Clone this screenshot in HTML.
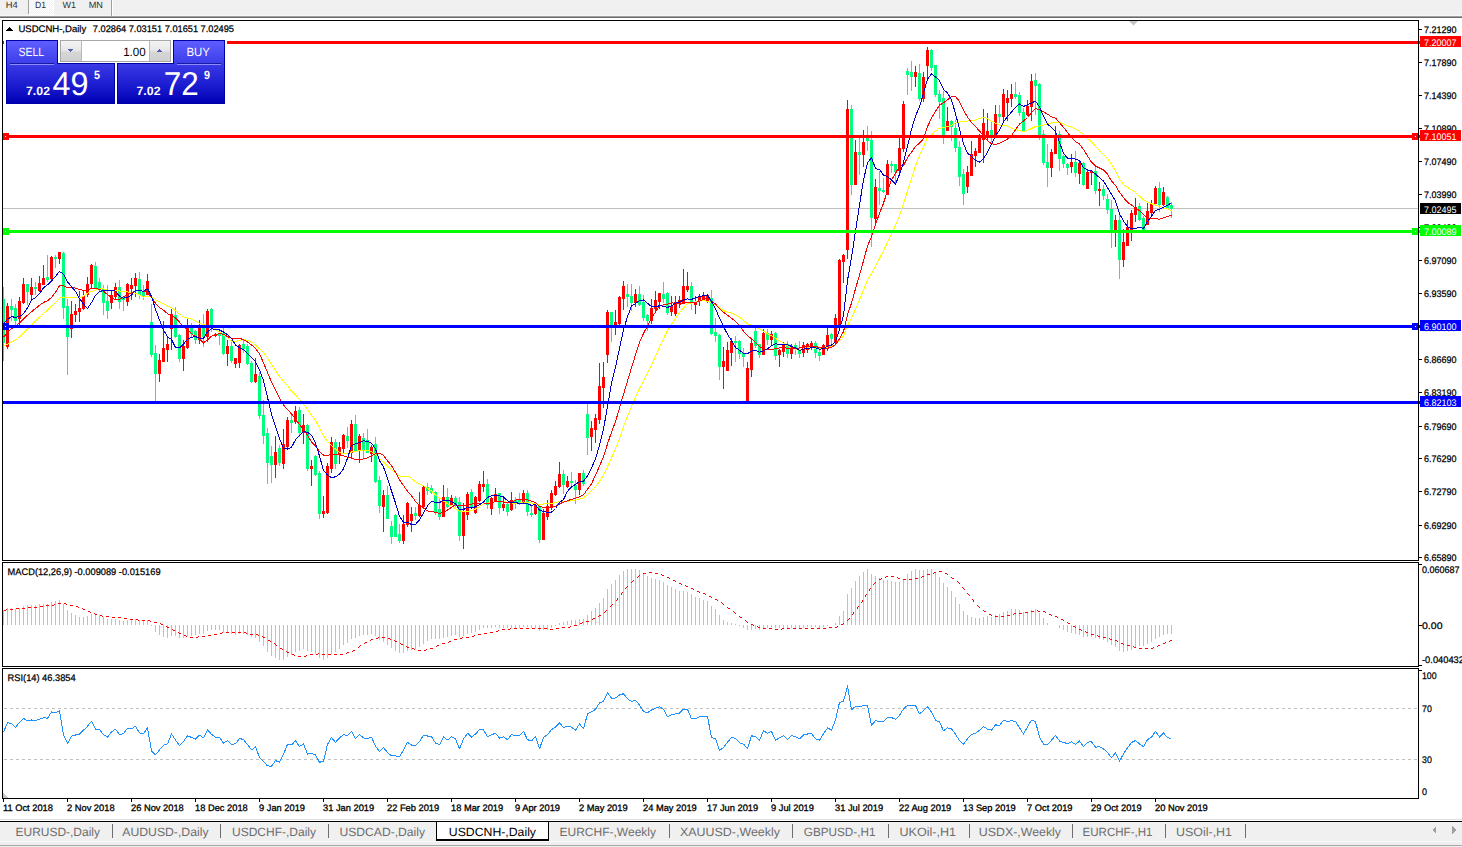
<!DOCTYPE html>
<html><head><meta charset="utf-8"><style>
html,body{margin:0;padding:0;background:#fff;}
body{width:1462px;height:847px;overflow:hidden;position:relative;}
svg{position:absolute;left:0;top:0;font-family:"Liberation Sans",sans-serif;}
</style></head><body>
<svg width="1462" height="847" viewBox="0 0 1462 847" shape-rendering="crispEdges" text-rendering="geometricPrecision">
<rect x="0" y="0" width="1462" height="15" fill="#f0f0f0"/>
<rect x="0" y="15" width="1462" height="1" fill="#f7f7f7"/>
<rect x="0" y="16" width="1462" height="1" fill="#a0a0a0"/>
<rect x="0" y="17" width="1462" height="1" fill="#6a6a6a"/>
<defs><pattern id="chk" x="0" y="0" width="2" height="2" patternUnits="userSpaceOnUse"><rect width="2" height="2" fill="#f0f0f0"/><rect width="1" height="1" fill="#ffffff"/><rect x="1" y="1" width="1" height="1" fill="#ffffff"/></pattern></defs>
<rect x="29" y="0" width="25" height="15" fill="#ffffff"/>
<rect x="29" y="0" width="24" height="14" fill="url(#chk)"/>
<rect x="28" y="0" width="1" height="14" fill="#a0a0a0"/>
<rect x="111" y="0" width="1" height="16" fill="#a0a0a0"/>
<rect x="112" y="0" width="1" height="16" fill="#ffffff"/>
<text x="5.7" y="8" font-size="9" fill="#303030" textLength="12" lengthAdjust="spacingAndGlyphs">H4</text>
<text x="35" y="8" font-size="9" fill="#303030" textLength="11" lengthAdjust="spacingAndGlyphs">D1</text>
<text x="62.4" y="8" font-size="9" fill="#303030" textLength="13.5" lengthAdjust="spacingAndGlyphs">W1</text>
<text x="88.7" y="8" font-size="9" fill="#303030" textLength="14.3" lengthAdjust="spacingAndGlyphs">MN</text>
<defs><clipPath id="cm"><rect x="3" y="21" width="1415" height="539"/></clipPath>
<clipPath id="cd"><rect x="3" y="563" width="1415" height="103"/></clipPath>
<clipPath id="cr"><rect x="3" y="669" width="1415" height="129"/></clipPath>
<linearGradient id="gt" x1="0" y1="0" x2="0" y2="1"><stop offset="0" stop-color="#5e5eff"/><stop offset="1" stop-color="#3c3cea"/></linearGradient>
<linearGradient id="gb" x1="0" y1="0" x2="0" y2="1"><stop offset="0" stop-color="#3a3ae6"/><stop offset="0.5" stop-color="#1e1ed2"/><stop offset="1" stop-color="#0000b4"/></linearGradient>
<linearGradient id="gs" x1="0" y1="0" x2="0" y2="1"><stop offset="0" stop-color="#f4f4f4"/><stop offset="0.5" stop-color="#e6e6e6"/><stop offset="0.55" stop-color="#d6d6d6"/><stop offset="1" stop-color="#d0d0d0"/></linearGradient>
</defs>
<rect x="1419" y="29" width="3" height="1" fill="#000"/>
<text x="1424" y="33" font-size="9.5" fill="#000" textLength="32.5" lengthAdjust="spacingAndGlyphs" stroke="#000" stroke-width="0.25">7.21290</text>
<rect x="1419" y="62" width="3" height="1" fill="#000"/>
<text x="1424" y="66" font-size="9.5" fill="#000" textLength="32.5" lengthAdjust="spacingAndGlyphs" stroke="#000" stroke-width="0.25">7.17890</text>
<rect x="1419" y="95" width="3" height="1" fill="#000"/>
<text x="1424" y="99" font-size="9.5" fill="#000" textLength="32.5" lengthAdjust="spacingAndGlyphs" stroke="#000" stroke-width="0.25">7.14390</text>
<rect x="1419" y="128" width="3" height="1" fill="#000"/>
<text x="1424" y="132" font-size="9.5" fill="#000" textLength="32.5" lengthAdjust="spacingAndGlyphs" stroke="#000" stroke-width="0.25">7.10890</text>
<rect x="1419" y="161" width="3" height="1" fill="#000"/>
<text x="1424" y="165" font-size="9.5" fill="#000" textLength="32.5" lengthAdjust="spacingAndGlyphs" stroke="#000" stroke-width="0.25">7.07490</text>
<rect x="1419" y="194" width="3" height="1" fill="#000"/>
<text x="1424" y="198" font-size="9.5" fill="#000" textLength="32.5" lengthAdjust="spacingAndGlyphs" stroke="#000" stroke-width="0.25">7.03990</text>
<rect x="1419" y="227" width="3" height="1" fill="#000"/>
<text x="1424" y="231" font-size="9.5" fill="#000" textLength="32.5" lengthAdjust="spacingAndGlyphs" stroke="#000" stroke-width="0.25">7.00490</text>
<rect x="1419" y="260" width="3" height="1" fill="#000"/>
<text x="1424" y="264" font-size="9.5" fill="#000" textLength="32.5" lengthAdjust="spacingAndGlyphs" stroke="#000" stroke-width="0.25">6.97090</text>
<rect x="1419" y="293" width="3" height="1" fill="#000"/>
<text x="1424" y="297" font-size="9.5" fill="#000" textLength="32.5" lengthAdjust="spacingAndGlyphs" stroke="#000" stroke-width="0.25">6.93590</text>
<rect x="1419" y="327" width="3" height="1" fill="#000"/>
<text x="1424" y="331" font-size="9.5" fill="#000" textLength="32.5" lengthAdjust="spacingAndGlyphs" stroke="#000" stroke-width="0.25">6.90090</text>
<rect x="1419" y="359" width="3" height="1" fill="#000"/>
<text x="1424" y="363" font-size="9.5" fill="#000" textLength="32.5" lengthAdjust="spacingAndGlyphs" stroke="#000" stroke-width="0.25">6.86690</text>
<rect x="1419" y="392" width="3" height="1" fill="#000"/>
<text x="1424" y="396" font-size="9.5" fill="#000" textLength="32.5" lengthAdjust="spacingAndGlyphs" stroke="#000" stroke-width="0.25">6.83190</text>
<rect x="1419" y="426" width="3" height="1" fill="#000"/>
<text x="1424" y="430" font-size="9.5" fill="#000" textLength="32.5" lengthAdjust="spacingAndGlyphs" stroke="#000" stroke-width="0.25">6.79690</text>
<rect x="1419" y="458" width="3" height="1" fill="#000"/>
<text x="1424" y="462" font-size="9.5" fill="#000" textLength="32.5" lengthAdjust="spacingAndGlyphs" stroke="#000" stroke-width="0.25">6.76290</text>
<rect x="1419" y="491" width="3" height="1" fill="#000"/>
<text x="1424" y="495" font-size="9.5" fill="#000" textLength="32.5" lengthAdjust="spacingAndGlyphs" stroke="#000" stroke-width="0.25">6.72790</text>
<rect x="1419" y="525" width="3" height="1" fill="#000"/>
<text x="1424" y="529" font-size="9.5" fill="#000" textLength="32.5" lengthAdjust="spacingAndGlyphs" stroke="#000" stroke-width="0.25">6.69290</text>
<rect x="1419" y="557" width="3" height="1" fill="#000"/>
<text x="1424" y="561" font-size="9.5" fill="#000" textLength="32.5" lengthAdjust="spacingAndGlyphs" stroke="#000" stroke-width="0.25">6.65890</text>
<rect x="3" y="208" width="1415" height="1" fill="#c0c0c0"/>
<g clip-path="url(#cm)">
<rect x="3" y="287" width="1" height="74" fill="#00ff7f"/>
<rect x="2" y="299" width="3" height="44" fill="#00ff7f"/>
<rect x="7" y="303" width="1" height="46" fill="#ff0000"/>
<rect x="6" y="306" width="3" height="41" fill="#ff0000"/>
<rect x="11" y="299" width="1" height="22" fill="#00ff7f"/>
<rect x="10" y="306" width="3" height="4" fill="#00ff7f"/>
<rect x="15" y="304" width="1" height="21" fill="#00ff7f"/>
<rect x="14" y="308" width="3" height="13" fill="#00ff7f"/>
<rect x="19" y="297" width="1" height="28" fill="#ff0000"/>
<rect x="18" y="301" width="3" height="18" fill="#ff0000"/>
<rect x="23" y="278" width="1" height="26" fill="#ff0000"/>
<rect x="22" y="284" width="3" height="19" fill="#ff0000"/>
<rect x="27" y="284" width="1" height="21" fill="#00ff7f"/>
<rect x="26" y="284" width="3" height="8" fill="#00ff7f"/>
<rect x="31" y="278" width="1" height="22" fill="#ff0000"/>
<rect x="30" y="287" width="3" height="8" fill="#ff0000"/>
<rect x="35" y="282" width="1" height="13" fill="#00ff7f"/>
<rect x="34" y="287" width="3" height="2" fill="#00ff7f"/>
<rect x="39" y="276" width="1" height="16" fill="#ff0000"/>
<rect x="38" y="283" width="3" height="8" fill="#ff0000"/>
<rect x="43" y="265" width="1" height="20" fill="#ff0000"/>
<rect x="42" y="278" width="3" height="7" fill="#ff0000"/>
<rect x="47" y="255" width="1" height="27" fill="#00ff7f"/>
<rect x="46" y="277" width="3" height="3" fill="#00ff7f"/>
<rect x="51" y="256" width="1" height="25" fill="#ff0000"/>
<rect x="50" y="257" width="3" height="22" fill="#ff0000"/>
<rect x="55" y="255" width="1" height="13" fill="#00ff7f"/>
<rect x="54" y="257" width="3" height="2" fill="#00ff7f"/>
<rect x="59" y="252" width="1" height="12" fill="#ff0000"/>
<rect x="58" y="252" width="3" height="7" fill="#ff0000"/>
<rect x="63" y="252" width="1" height="67" fill="#00ff7f"/>
<rect x="62" y="253" width="3" height="55" fill="#00ff7f"/>
<rect x="67" y="299" width="1" height="76" fill="#00ff7f"/>
<rect x="66" y="306" width="3" height="31" fill="#00ff7f"/>
<rect x="71" y="301" width="1" height="37" fill="#ff0000"/>
<rect x="70" y="314" width="3" height="15" fill="#ff0000"/>
<rect x="75" y="304" width="1" height="18" fill="#ff0000"/>
<rect x="74" y="311" width="3" height="4" fill="#ff0000"/>
<rect x="79" y="291" width="1" height="31" fill="#ff0000"/>
<rect x="78" y="308" width="3" height="4" fill="#ff0000"/>
<rect x="83" y="291" width="1" height="19" fill="#ff0000"/>
<rect x="82" y="296" width="3" height="13" fill="#ff0000"/>
<rect x="87" y="277" width="1" height="20" fill="#ff0000"/>
<rect x="86" y="284" width="3" height="11" fill="#ff0000"/>
<rect x="91" y="264" width="1" height="25" fill="#ff0000"/>
<rect x="90" y="265" width="3" height="19" fill="#ff0000"/>
<rect x="95" y="262" width="1" height="27" fill="#00ff7f"/>
<rect x="94" y="266" width="3" height="22" fill="#00ff7f"/>
<rect x="99" y="278" width="1" height="14" fill="#00ff7f"/>
<rect x="98" y="282" width="3" height="7" fill="#00ff7f"/>
<rect x="103" y="285" width="1" height="30" fill="#00ff7f"/>
<rect x="102" y="289" width="3" height="14" fill="#00ff7f"/>
<rect x="107" y="285" width="1" height="34" fill="#00ff7f"/>
<rect x="106" y="301" width="3" height="10" fill="#00ff7f"/>
<rect x="111" y="291" width="1" height="18" fill="#ff0000"/>
<rect x="110" y="295" width="3" height="8" fill="#ff0000"/>
<rect x="115" y="283" width="1" height="16" fill="#ff0000"/>
<rect x="114" y="287" width="3" height="10" fill="#ff0000"/>
<rect x="119" y="280" width="1" height="29" fill="#00ff7f"/>
<rect x="118" y="287" width="3" height="15" fill="#00ff7f"/>
<rect x="123" y="297" width="1" height="14" fill="#00ff7f"/>
<rect x="122" y="298" width="3" height="2" fill="#00ff7f"/>
<rect x="127" y="283" width="1" height="23" fill="#ff0000"/>
<rect x="126" y="284" width="3" height="18" fill="#ff0000"/>
<rect x="131" y="278" width="1" height="22" fill="#ff0000"/>
<rect x="130" y="285" width="3" height="4" fill="#ff0000"/>
<rect x="135" y="273" width="1" height="24" fill="#ff0000"/>
<rect x="134" y="278" width="3" height="8" fill="#ff0000"/>
<rect x="139" y="272" width="1" height="27" fill="#00ff7f"/>
<rect x="138" y="279" width="3" height="16" fill="#00ff7f"/>
<rect x="143" y="285" width="1" height="15" fill="#00ff7f"/>
<rect x="142" y="291" width="3" height="6" fill="#00ff7f"/>
<rect x="147" y="274" width="1" height="21" fill="#ff0000"/>
<rect x="146" y="281" width="3" height="14" fill="#ff0000"/>
<rect x="151" y="304" width="1" height="53" fill="#00ff7f"/>
<rect x="150" y="322" width="3" height="33" fill="#00ff7f"/>
<rect x="155" y="345" width="1" height="56" fill="#00ff7f"/>
<rect x="154" y="353" width="3" height="21" fill="#00ff7f"/>
<rect x="159" y="354" width="1" height="28" fill="#ff0000"/>
<rect x="158" y="360" width="3" height="14" fill="#ff0000"/>
<rect x="163" y="321" width="1" height="41" fill="#ff0000"/>
<rect x="162" y="348" width="3" height="14" fill="#ff0000"/>
<rect x="167" y="337" width="1" height="25" fill="#ff0000"/>
<rect x="166" y="344" width="3" height="6" fill="#ff0000"/>
<rect x="171" y="309" width="1" height="41" fill="#ff0000"/>
<rect x="170" y="314" width="3" height="15" fill="#ff0000"/>
<rect x="175" y="307" width="1" height="31" fill="#00ff7f"/>
<rect x="174" y="315" width="3" height="22" fill="#00ff7f"/>
<rect x="179" y="334" width="1" height="28" fill="#00ff7f"/>
<rect x="178" y="335" width="3" height="24" fill="#00ff7f"/>
<rect x="183" y="340" width="1" height="31" fill="#ff0000"/>
<rect x="182" y="346" width="3" height="13" fill="#ff0000"/>
<rect x="187" y="318" width="1" height="31" fill="#ff0000"/>
<rect x="186" y="327" width="3" height="21" fill="#ff0000"/>
<rect x="191" y="323" width="1" height="14" fill="#00ff7f"/>
<rect x="190" y="327" width="3" height="7" fill="#00ff7f"/>
<rect x="195" y="330" width="1" height="14" fill="#00ff7f"/>
<rect x="194" y="331" width="3" height="9" fill="#00ff7f"/>
<rect x="199" y="320" width="1" height="24" fill="#ff0000"/>
<rect x="198" y="327" width="3" height="13" fill="#ff0000"/>
<rect x="203" y="314" width="1" height="33" fill="#00ff7f"/>
<rect x="202" y="328" width="3" height="9" fill="#00ff7f"/>
<rect x="207" y="309" width="1" height="33" fill="#ff0000"/>
<rect x="206" y="311" width="3" height="26" fill="#ff0000"/>
<rect x="211" y="308" width="1" height="24" fill="#00ff7f"/>
<rect x="210" y="309" width="3" height="17" fill="#00ff7f"/>
<rect x="215" y="333" width="1" height="4" fill="#ff0000"/>
<rect x="214" y="334" width="3" height="2" fill="#ff0000"/>
<rect x="219" y="330" width="1" height="15" fill="#00ff7f"/>
<rect x="218" y="333" width="3" height="3" fill="#00ff7f"/>
<rect x="223" y="328" width="1" height="27" fill="#00ff7f"/>
<rect x="222" y="333" width="3" height="21" fill="#00ff7f"/>
<rect x="227" y="340" width="1" height="26" fill="#ff0000"/>
<rect x="226" y="346" width="3" height="8" fill="#ff0000"/>
<rect x="231" y="340" width="1" height="23" fill="#00ff7f"/>
<rect x="230" y="346" width="3" height="15" fill="#00ff7f"/>
<rect x="235" y="358" width="1" height="10" fill="#ff0000"/>
<rect x="234" y="358" width="3" height="6" fill="#ff0000"/>
<rect x="239" y="344" width="1" height="24" fill="#ff0000"/>
<rect x="238" y="345" width="3" height="18" fill="#ff0000"/>
<rect x="243" y="340" width="1" height="13" fill="#00ff7f"/>
<rect x="242" y="344" width="3" height="5" fill="#00ff7f"/>
<rect x="247" y="344" width="1" height="21" fill="#00ff7f"/>
<rect x="246" y="346" width="3" height="18" fill="#00ff7f"/>
<rect x="251" y="361" width="1" height="22" fill="#00ff7f"/>
<rect x="250" y="363" width="3" height="19" fill="#00ff7f"/>
<rect x="255" y="358" width="1" height="25" fill="#ff0000"/>
<rect x="254" y="374" width="3" height="8" fill="#ff0000"/>
<rect x="259" y="372" width="1" height="47" fill="#00ff7f"/>
<rect x="258" y="376" width="3" height="40" fill="#00ff7f"/>
<rect x="263" y="400" width="1" height="44" fill="#00ff7f"/>
<rect x="262" y="415" width="3" height="21" fill="#00ff7f"/>
<rect x="267" y="428" width="1" height="56" fill="#00ff7f"/>
<rect x="266" y="433" width="3" height="30" fill="#00ff7f"/>
<rect x="271" y="446" width="1" height="37" fill="#00ff7f"/>
<rect x="270" y="456" width="3" height="9" fill="#00ff7f"/>
<rect x="275" y="436" width="1" height="42" fill="#ff0000"/>
<rect x="274" y="452" width="3" height="13" fill="#ff0000"/>
<rect x="279" y="445" width="1" height="21" fill="#00ff7f"/>
<rect x="278" y="448" width="3" height="15" fill="#00ff7f"/>
<rect x="283" y="429" width="1" height="40" fill="#ff0000"/>
<rect x="282" y="444" width="3" height="20" fill="#ff0000"/>
<rect x="287" y="417" width="1" height="31" fill="#ff0000"/>
<rect x="286" y="420" width="3" height="27" fill="#ff0000"/>
<rect x="291" y="414" width="1" height="19" fill="#00ff7f"/>
<rect x="290" y="420" width="3" height="3" fill="#00ff7f"/>
<rect x="295" y="406" width="1" height="18" fill="#ff0000"/>
<rect x="294" y="411" width="3" height="11" fill="#ff0000"/>
<rect x="299" y="407" width="1" height="30" fill="#00ff7f"/>
<rect x="298" y="410" width="3" height="23" fill="#00ff7f"/>
<rect x="303" y="414" width="1" height="30" fill="#ff0000"/>
<rect x="302" y="425" width="3" height="8" fill="#ff0000"/>
<rect x="307" y="424" width="1" height="47" fill="#00ff7f"/>
<rect x="306" y="425" width="3" height="44" fill="#00ff7f"/>
<rect x="311" y="460" width="1" height="26" fill="#ff0000"/>
<rect x="310" y="466" width="3" height="3" fill="#ff0000"/>
<rect x="315" y="455" width="1" height="21" fill="#00ff7f"/>
<rect x="314" y="456" width="3" height="19" fill="#00ff7f"/>
<rect x="319" y="471" width="1" height="48" fill="#00ff7f"/>
<rect x="318" y="473" width="3" height="41" fill="#00ff7f"/>
<rect x="323" y="496" width="1" height="22" fill="#ff0000"/>
<rect x="322" y="511" width="3" height="3" fill="#ff0000"/>
<rect x="327" y="463" width="1" height="51" fill="#ff0000"/>
<rect x="326" y="466" width="3" height="47" fill="#ff0000"/>
<rect x="331" y="437" width="1" height="36" fill="#ff0000"/>
<rect x="330" y="442" width="3" height="27" fill="#ff0000"/>
<rect x="335" y="439" width="1" height="30" fill="#00ff7f"/>
<rect x="334" y="442" width="3" height="22" fill="#00ff7f"/>
<rect x="339" y="442" width="1" height="22" fill="#ff0000"/>
<rect x="338" y="447" width="3" height="8" fill="#ff0000"/>
<rect x="343" y="434" width="1" height="20" fill="#ff0000"/>
<rect x="342" y="435" width="3" height="14" fill="#ff0000"/>
<rect x="347" y="427" width="1" height="21" fill="#00ff7f"/>
<rect x="346" y="436" width="3" height="5" fill="#00ff7f"/>
<rect x="351" y="420" width="1" height="38" fill="#ff0000"/>
<rect x="350" y="424" width="3" height="29" fill="#ff0000"/>
<rect x="355" y="415" width="1" height="37" fill="#00ff7f"/>
<rect x="354" y="424" width="3" height="27" fill="#00ff7f"/>
<rect x="359" y="434" width="1" height="29" fill="#ff0000"/>
<rect x="358" y="436" width="3" height="15" fill="#ff0000"/>
<rect x="363" y="433" width="1" height="26" fill="#00ff7f"/>
<rect x="362" y="438" width="3" height="12" fill="#00ff7f"/>
<rect x="367" y="429" width="1" height="24" fill="#00ff7f"/>
<rect x="366" y="440" width="3" height="13" fill="#00ff7f"/>
<rect x="371" y="445" width="1" height="17" fill="#ff0000"/>
<rect x="370" y="447" width="3" height="7" fill="#ff0000"/>
<rect x="375" y="437" width="1" height="46" fill="#00ff7f"/>
<rect x="374" y="444" width="3" height="38" fill="#00ff7f"/>
<rect x="379" y="476" width="1" height="37" fill="#00ff7f"/>
<rect x="378" y="480" width="3" height="26" fill="#00ff7f"/>
<rect x="383" y="490" width="1" height="42" fill="#ff0000"/>
<rect x="382" y="495" width="3" height="12" fill="#ff0000"/>
<rect x="387" y="486" width="1" height="33" fill="#00ff7f"/>
<rect x="386" y="495" width="3" height="24" fill="#00ff7f"/>
<rect x="391" y="521" width="1" height="23" fill="#00ff7f"/>
<rect x="390" y="526" width="3" height="11" fill="#00ff7f"/>
<rect x="395" y="514" width="1" height="23" fill="#00ff7f"/>
<rect x="394" y="515" width="3" height="22" fill="#00ff7f"/>
<rect x="399" y="524" width="1" height="19" fill="#00ff7f"/>
<rect x="398" y="534" width="3" height="7" fill="#00ff7f"/>
<rect x="403" y="515" width="1" height="29" fill="#ff0000"/>
<rect x="402" y="524" width="3" height="17" fill="#ff0000"/>
<rect x="407" y="502" width="1" height="25" fill="#ff0000"/>
<rect x="406" y="503" width="3" height="22" fill="#ff0000"/>
<rect x="411" y="507" width="1" height="25" fill="#ff0000"/>
<rect x="410" y="514" width="3" height="7" fill="#ff0000"/>
<rect x="415" y="507" width="1" height="13" fill="#00ff7f"/>
<rect x="414" y="513" width="3" height="3" fill="#00ff7f"/>
<rect x="419" y="492" width="1" height="25" fill="#ff0000"/>
<rect x="418" y="505" width="3" height="11" fill="#ff0000"/>
<rect x="423" y="486" width="1" height="22" fill="#ff0000"/>
<rect x="422" y="487" width="3" height="20" fill="#ff0000"/>
<rect x="427" y="483" width="1" height="12" fill="#00ff7f"/>
<rect x="426" y="487" width="3" height="4" fill="#00ff7f"/>
<rect x="431" y="485" width="1" height="9" fill="#00ff7f"/>
<rect x="430" y="488" width="3" height="5" fill="#00ff7f"/>
<rect x="435" y="491" width="1" height="24" fill="#00ff7f"/>
<rect x="434" y="492" width="3" height="20" fill="#00ff7f"/>
<rect x="439" y="498" width="1" height="22" fill="#00ff7f"/>
<rect x="438" y="509" width="3" height="8" fill="#00ff7f"/>
<rect x="443" y="485" width="1" height="32" fill="#ff0000"/>
<rect x="442" y="497" width="3" height="20" fill="#ff0000"/>
<rect x="447" y="488" width="1" height="20" fill="#00ff7f"/>
<rect x="446" y="497" width="3" height="10" fill="#00ff7f"/>
<rect x="451" y="495" width="1" height="12" fill="#ff0000"/>
<rect x="450" y="498" width="3" height="7" fill="#ff0000"/>
<rect x="455" y="496" width="1" height="11" fill="#00ff7f"/>
<rect x="454" y="498" width="3" height="7" fill="#00ff7f"/>
<rect x="459" y="497" width="1" height="44" fill="#00ff7f"/>
<rect x="458" y="502" width="3" height="34" fill="#00ff7f"/>
<rect x="463" y="503" width="1" height="46" fill="#ff0000"/>
<rect x="462" y="511" width="3" height="25" fill="#ff0000"/>
<rect x="467" y="492" width="1" height="28" fill="#ff0000"/>
<rect x="466" y="494" width="3" height="21" fill="#ff0000"/>
<rect x="471" y="489" width="1" height="19" fill="#00ff7f"/>
<rect x="470" y="492" width="3" height="15" fill="#00ff7f"/>
<rect x="475" y="496" width="1" height="18" fill="#ff0000"/>
<rect x="474" y="497" width="3" height="16" fill="#ff0000"/>
<rect x="479" y="481" width="1" height="21" fill="#ff0000"/>
<rect x="478" y="484" width="3" height="17" fill="#ff0000"/>
<rect x="483" y="471" width="1" height="21" fill="#ff0000"/>
<rect x="482" y="484" width="3" height="3" fill="#ff0000"/>
<rect x="487" y="479" width="1" height="30" fill="#00ff7f"/>
<rect x="486" y="484" width="3" height="21" fill="#00ff7f"/>
<rect x="491" y="497" width="1" height="18" fill="#ff0000"/>
<rect x="490" y="498" width="3" height="11" fill="#ff0000"/>
<rect x="495" y="488" width="1" height="14" fill="#ff0000"/>
<rect x="494" y="494" width="3" height="7" fill="#ff0000"/>
<rect x="499" y="493" width="1" height="21" fill="#00ff7f"/>
<rect x="498" y="493" width="3" height="15" fill="#00ff7f"/>
<rect x="503" y="496" width="1" height="15" fill="#ff0000"/>
<rect x="502" y="504" width="3" height="4" fill="#ff0000"/>
<rect x="507" y="503" width="1" height="13" fill="#00ff7f"/>
<rect x="506" y="504" width="3" height="8" fill="#00ff7f"/>
<rect x="511" y="492" width="1" height="19" fill="#ff0000"/>
<rect x="510" y="500" width="3" height="10" fill="#ff0000"/>
<rect x="515" y="497" width="1" height="12" fill="#00ff7f"/>
<rect x="514" y="500" width="3" height="3" fill="#00ff7f"/>
<rect x="519" y="493" width="1" height="12" fill="#00ff7f"/>
<rect x="518" y="499" width="3" height="4" fill="#00ff7f"/>
<rect x="523" y="490" width="1" height="14" fill="#ff0000"/>
<rect x="522" y="493" width="3" height="9" fill="#ff0000"/>
<rect x="527" y="490" width="1" height="26" fill="#00ff7f"/>
<rect x="526" y="493" width="3" height="19" fill="#00ff7f"/>
<rect x="531" y="506" width="1" height="11" fill="#00ff7f"/>
<rect x="530" y="513" width="3" height="2" fill="#00ff7f"/>
<rect x="535" y="505" width="1" height="10" fill="#ff0000"/>
<rect x="534" y="505" width="3" height="9" fill="#ff0000"/>
<rect x="539" y="505" width="1" height="38" fill="#00ff7f"/>
<rect x="538" y="506" width="3" height="34" fill="#00ff7f"/>
<rect x="543" y="509" width="1" height="31" fill="#ff0000"/>
<rect x="542" y="513" width="3" height="27" fill="#ff0000"/>
<rect x="547" y="500" width="1" height="20" fill="#ff0000"/>
<rect x="546" y="506" width="3" height="11" fill="#ff0000"/>
<rect x="551" y="490" width="1" height="20" fill="#ff0000"/>
<rect x="550" y="493" width="3" height="15" fill="#ff0000"/>
<rect x="555" y="481" width="1" height="15" fill="#ff0000"/>
<rect x="554" y="486" width="3" height="9" fill="#ff0000"/>
<rect x="559" y="462" width="1" height="26" fill="#ff0000"/>
<rect x="558" y="474" width="3" height="13" fill="#ff0000"/>
<rect x="563" y="470" width="1" height="24" fill="#00ff7f"/>
<rect x="562" y="474" width="3" height="11" fill="#00ff7f"/>
<rect x="567" y="476" width="1" height="12" fill="#ff0000"/>
<rect x="566" y="481" width="3" height="6" fill="#ff0000"/>
<rect x="571" y="472" width="1" height="15" fill="#00ff7f"/>
<rect x="570" y="481" width="3" height="2" fill="#00ff7f"/>
<rect x="575" y="480" width="1" height="24" fill="#00ff7f"/>
<rect x="574" y="485" width="3" height="5" fill="#00ff7f"/>
<rect x="579" y="473" width="1" height="22" fill="#ff0000"/>
<rect x="578" y="473" width="3" height="17" fill="#ff0000"/>
<rect x="583" y="470" width="1" height="16" fill="#00ff7f"/>
<rect x="582" y="473" width="3" height="11" fill="#00ff7f"/>
<rect x="587" y="404" width="1" height="51" fill="#00ff7f"/>
<rect x="586" y="414" width="3" height="24" fill="#00ff7f"/>
<rect x="591" y="421" width="1" height="30" fill="#ff0000"/>
<rect x="590" y="428" width="3" height="9" fill="#ff0000"/>
<rect x="595" y="414" width="1" height="29" fill="#ff0000"/>
<rect x="594" y="418" width="3" height="12" fill="#ff0000"/>
<rect x="599" y="363" width="1" height="61" fill="#ff0000"/>
<rect x="598" y="386" width="3" height="34" fill="#ff0000"/>
<rect x="603" y="362" width="1" height="46" fill="#ff0000"/>
<rect x="602" y="377" width="3" height="11" fill="#ff0000"/>
<rect x="607" y="310" width="1" height="53" fill="#ff0000"/>
<rect x="606" y="312" width="3" height="43" fill="#ff0000"/>
<rect x="611" y="312" width="1" height="30" fill="#00ff7f"/>
<rect x="610" y="312" width="3" height="13" fill="#00ff7f"/>
<rect x="615" y="310" width="1" height="25" fill="#ff0000"/>
<rect x="614" y="322" width="3" height="3" fill="#ff0000"/>
<rect x="619" y="296" width="1" height="29" fill="#ff0000"/>
<rect x="618" y="297" width="3" height="27" fill="#ff0000"/>
<rect x="623" y="281" width="1" height="29" fill="#ff0000"/>
<rect x="622" y="286" width="3" height="13" fill="#ff0000"/>
<rect x="627" y="284" width="1" height="23" fill="#00ff7f"/>
<rect x="626" y="294" width="3" height="3" fill="#00ff7f"/>
<rect x="631" y="284" width="1" height="27" fill="#00ff7f"/>
<rect x="630" y="296" width="3" height="7" fill="#00ff7f"/>
<rect x="635" y="289" width="1" height="18" fill="#ff0000"/>
<rect x="634" y="294" width="3" height="9" fill="#ff0000"/>
<rect x="639" y="286" width="1" height="20" fill="#00ff7f"/>
<rect x="638" y="294" width="3" height="11" fill="#00ff7f"/>
<rect x="643" y="295" width="1" height="26" fill="#00ff7f"/>
<rect x="642" y="302" width="3" height="16" fill="#00ff7f"/>
<rect x="647" y="314" width="1" height="17" fill="#00ff7f"/>
<rect x="646" y="315" width="3" height="6" fill="#00ff7f"/>
<rect x="651" y="299" width="1" height="25" fill="#ff0000"/>
<rect x="650" y="308" width="3" height="13" fill="#ff0000"/>
<rect x="655" y="291" width="1" height="20" fill="#ff0000"/>
<rect x="654" y="300" width="3" height="9" fill="#ff0000"/>
<rect x="659" y="293" width="1" height="16" fill="#ff0000"/>
<rect x="658" y="293" width="3" height="9" fill="#ff0000"/>
<rect x="663" y="282" width="1" height="21" fill="#00ff7f"/>
<rect x="662" y="294" width="3" height="5" fill="#00ff7f"/>
<rect x="667" y="292" width="1" height="23" fill="#00ff7f"/>
<rect x="666" y="293" width="3" height="20" fill="#00ff7f"/>
<rect x="671" y="296" width="1" height="20" fill="#ff0000"/>
<rect x="670" y="306" width="3" height="6" fill="#ff0000"/>
<rect x="675" y="296" width="1" height="20" fill="#ff0000"/>
<rect x="674" y="302" width="3" height="12" fill="#ff0000"/>
<rect x="679" y="296" width="1" height="12" fill="#ff0000"/>
<rect x="678" y="300" width="3" height="4" fill="#ff0000"/>
<rect x="683" y="269" width="1" height="34" fill="#ff0000"/>
<rect x="682" y="286" width="3" height="17" fill="#ff0000"/>
<rect x="687" y="272" width="1" height="20" fill="#ff0000"/>
<rect x="686" y="286" width="3" height="4" fill="#ff0000"/>
<rect x="691" y="282" width="1" height="28" fill="#00ff7f"/>
<rect x="690" y="286" width="3" height="17" fill="#00ff7f"/>
<rect x="695" y="296" width="1" height="18" fill="#ff0000"/>
<rect x="694" y="302" width="3" height="3" fill="#ff0000"/>
<rect x="699" y="294" width="1" height="12" fill="#ff0000"/>
<rect x="698" y="296" width="3" height="5" fill="#ff0000"/>
<rect x="703" y="292" width="1" height="9" fill="#ff0000"/>
<rect x="702" y="295" width="3" height="5" fill="#ff0000"/>
<rect x="707" y="294" width="1" height="9" fill="#ff0000"/>
<rect x="706" y="295" width="3" height="6" fill="#ff0000"/>
<rect x="711" y="290" width="1" height="45" fill="#00ff7f"/>
<rect x="710" y="298" width="3" height="36" fill="#00ff7f"/>
<rect x="715" y="318" width="1" height="24" fill="#00ff7f"/>
<rect x="714" y="332" width="3" height="4" fill="#00ff7f"/>
<rect x="719" y="334" width="1" height="46" fill="#00ff7f"/>
<rect x="718" y="335" width="3" height="32" fill="#00ff7f"/>
<rect x="723" y="347" width="1" height="42" fill="#ff0000"/>
<rect x="722" y="361" width="3" height="6" fill="#ff0000"/>
<rect x="727" y="342" width="1" height="29" fill="#ff0000"/>
<rect x="726" y="350" width="3" height="21" fill="#ff0000"/>
<rect x="731" y="338" width="1" height="28" fill="#ff0000"/>
<rect x="730" y="341" width="3" height="12" fill="#ff0000"/>
<rect x="735" y="336" width="1" height="26" fill="#00ff7f"/>
<rect x="734" y="341" width="3" height="2" fill="#00ff7f"/>
<rect x="739" y="340" width="1" height="19" fill="#00ff7f"/>
<rect x="738" y="341" width="3" height="13" fill="#00ff7f"/>
<rect x="743" y="348" width="1" height="19" fill="#00ff7f"/>
<rect x="742" y="353" width="3" height="4" fill="#00ff7f"/>
<rect x="747" y="362" width="1" height="41" fill="#ff0000"/>
<rect x="746" y="368" width="3" height="34" fill="#ff0000"/>
<rect x="751" y="339" width="1" height="38" fill="#ff0000"/>
<rect x="750" y="343" width="3" height="27" fill="#ff0000"/>
<rect x="755" y="328" width="1" height="20" fill="#00ff7f"/>
<rect x="754" y="331" width="3" height="15" fill="#00ff7f"/>
<rect x="759" y="344" width="1" height="14" fill="#00ff7f"/>
<rect x="758" y="344" width="3" height="11" fill="#00ff7f"/>
<rect x="763" y="329" width="1" height="26" fill="#ff0000"/>
<rect x="762" y="333" width="3" height="22" fill="#ff0000"/>
<rect x="767" y="329" width="1" height="16" fill="#00ff7f"/>
<rect x="766" y="333" width="3" height="7" fill="#00ff7f"/>
<rect x="771" y="331" width="1" height="15" fill="#ff0000"/>
<rect x="770" y="334" width="3" height="6" fill="#ff0000"/>
<rect x="775" y="332" width="1" height="28" fill="#00ff7f"/>
<rect x="774" y="333" width="3" height="23" fill="#00ff7f"/>
<rect x="779" y="349" width="1" height="18" fill="#ff0000"/>
<rect x="778" y="350" width="3" height="5" fill="#ff0000"/>
<rect x="783" y="342" width="1" height="15" fill="#ff0000"/>
<rect x="782" y="345" width="3" height="7" fill="#ff0000"/>
<rect x="787" y="341" width="1" height="17" fill="#00ff7f"/>
<rect x="786" y="344" width="3" height="10" fill="#00ff7f"/>
<rect x="791" y="344" width="1" height="15" fill="#ff0000"/>
<rect x="790" y="346" width="3" height="8" fill="#ff0000"/>
<rect x="795" y="343" width="1" height="12" fill="#00ff7f"/>
<rect x="794" y="345" width="3" height="4" fill="#00ff7f"/>
<rect x="799" y="341" width="1" height="17" fill="#00ff7f"/>
<rect x="798" y="349" width="3" height="5" fill="#00ff7f"/>
<rect x="803" y="342" width="1" height="15" fill="#ff0000"/>
<rect x="802" y="345" width="3" height="8" fill="#ff0000"/>
<rect x="807" y="343" width="1" height="10" fill="#ff0000"/>
<rect x="806" y="344" width="3" height="6" fill="#ff0000"/>
<rect x="811" y="341" width="1" height="9" fill="#ff0000"/>
<rect x="810" y="343" width="3" height="4" fill="#ff0000"/>
<rect x="815" y="341" width="1" height="17" fill="#00ff7f"/>
<rect x="814" y="343" width="3" height="10" fill="#00ff7f"/>
<rect x="819" y="349" width="1" height="12" fill="#00ff7f"/>
<rect x="818" y="352" width="3" height="4" fill="#00ff7f"/>
<rect x="823" y="344" width="1" height="11" fill="#ff0000"/>
<rect x="822" y="345" width="3" height="10" fill="#ff0000"/>
<rect x="827" y="328" width="1" height="23" fill="#ff0000"/>
<rect x="826" y="335" width="3" height="12" fill="#ff0000"/>
<rect x="831" y="333" width="1" height="12" fill="#00ff7f"/>
<rect x="830" y="334" width="3" height="5" fill="#00ff7f"/>
<rect x="835" y="314" width="1" height="30" fill="#ff0000"/>
<rect x="834" y="318" width="3" height="24" fill="#ff0000"/>
<rect x="839" y="259" width="1" height="66" fill="#ff0000"/>
<rect x="838" y="260" width="3" height="65" fill="#ff0000"/>
<rect x="843" y="254" width="1" height="29" fill="#ff0000"/>
<rect x="842" y="255" width="3" height="7" fill="#ff0000"/>
<rect x="847" y="100" width="1" height="159" fill="#ff0000"/>
<rect x="846" y="109" width="3" height="141" fill="#ff0000"/>
<rect x="851" y="105" width="1" height="90" fill="#00ff7f"/>
<rect x="850" y="109" width="3" height="76" fill="#00ff7f"/>
<rect x="855" y="140" width="1" height="45" fill="#ff0000"/>
<rect x="854" y="152" width="3" height="33" fill="#ff0000"/>
<rect x="859" y="138" width="1" height="37" fill="#00ff7f"/>
<rect x="858" y="152" width="3" height="3" fill="#00ff7f"/>
<rect x="863" y="130" width="1" height="37" fill="#ff0000"/>
<rect x="862" y="142" width="3" height="13" fill="#ff0000"/>
<rect x="867" y="126" width="1" height="25" fill="#00ff7f"/>
<rect x="866" y="138" width="3" height="3" fill="#00ff7f"/>
<rect x="871" y="131" width="1" height="116" fill="#00ff7f"/>
<rect x="870" y="140" width="3" height="78" fill="#00ff7f"/>
<rect x="875" y="179" width="1" height="44" fill="#ff0000"/>
<rect x="874" y="187" width="3" height="32" fill="#ff0000"/>
<rect x="879" y="171" width="1" height="34" fill="#00ff7f"/>
<rect x="878" y="188" width="3" height="3" fill="#00ff7f"/>
<rect x="883" y="178" width="1" height="15" fill="#00ff7f"/>
<rect x="882" y="190" width="3" height="2" fill="#00ff7f"/>
<rect x="887" y="160" width="1" height="35" fill="#ff0000"/>
<rect x="886" y="164" width="3" height="31" fill="#ff0000"/>
<rect x="891" y="161" width="1" height="12" fill="#00ff7f"/>
<rect x="890" y="164" width="3" height="2" fill="#00ff7f"/>
<rect x="895" y="164" width="1" height="21" fill="#00ff7f"/>
<rect x="894" y="164" width="3" height="8" fill="#00ff7f"/>
<rect x="899" y="138" width="1" height="36" fill="#ff0000"/>
<rect x="898" y="148" width="3" height="23" fill="#ff0000"/>
<rect x="903" y="101" width="1" height="51" fill="#ff0000"/>
<rect x="902" y="104" width="3" height="45" fill="#ff0000"/>
<rect x="907" y="68" width="1" height="27" fill="#00ff7f"/>
<rect x="906" y="71" width="3" height="4" fill="#00ff7f"/>
<rect x="911" y="61" width="1" height="30" fill="#00ff7f"/>
<rect x="910" y="72" width="3" height="5" fill="#00ff7f"/>
<rect x="915" y="66" width="1" height="21" fill="#ff0000"/>
<rect x="914" y="72" width="3" height="5" fill="#ff0000"/>
<rect x="919" y="64" width="1" height="37" fill="#00ff7f"/>
<rect x="918" y="73" width="3" height="26" fill="#00ff7f"/>
<rect x="923" y="72" width="1" height="30" fill="#ff0000"/>
<rect x="922" y="77" width="3" height="22" fill="#ff0000"/>
<rect x="927" y="47" width="1" height="32" fill="#ff0000"/>
<rect x="926" y="50" width="3" height="16" fill="#ff0000"/>
<rect x="931" y="49" width="1" height="22" fill="#00ff7f"/>
<rect x="930" y="50" width="3" height="18" fill="#00ff7f"/>
<rect x="935" y="65" width="1" height="32" fill="#00ff7f"/>
<rect x="934" y="65" width="3" height="30" fill="#00ff7f"/>
<rect x="939" y="90" width="1" height="29" fill="#00ff7f"/>
<rect x="938" y="94" width="3" height="8" fill="#00ff7f"/>
<rect x="943" y="91" width="1" height="53" fill="#00ff7f"/>
<rect x="942" y="98" width="3" height="38" fill="#00ff7f"/>
<rect x="947" y="107" width="1" height="24" fill="#ff0000"/>
<rect x="946" y="121" width="3" height="10" fill="#ff0000"/>
<rect x="951" y="120" width="1" height="21" fill="#00ff7f"/>
<rect x="950" y="121" width="3" height="6" fill="#00ff7f"/>
<rect x="955" y="120" width="1" height="32" fill="#00ff7f"/>
<rect x="954" y="128" width="3" height="20" fill="#00ff7f"/>
<rect x="959" y="141" width="1" height="45" fill="#00ff7f"/>
<rect x="958" y="147" width="3" height="30" fill="#00ff7f"/>
<rect x="963" y="169" width="1" height="36" fill="#00ff7f"/>
<rect x="962" y="174" width="3" height="20" fill="#00ff7f"/>
<rect x="967" y="166" width="1" height="27" fill="#ff0000"/>
<rect x="966" y="172" width="3" height="15" fill="#ff0000"/>
<rect x="971" y="141" width="1" height="26" fill="#ff0000"/>
<rect x="970" y="154" width="3" height="22" fill="#ff0000"/>
<rect x="975" y="148" width="1" height="19" fill="#ff0000"/>
<rect x="974" y="151" width="3" height="5" fill="#ff0000"/>
<rect x="979" y="134" width="1" height="19" fill="#ff0000"/>
<rect x="978" y="138" width="3" height="15" fill="#ff0000"/>
<rect x="983" y="109" width="1" height="54" fill="#ff0000"/>
<rect x="982" y="123" width="3" height="17" fill="#ff0000"/>
<rect x="987" y="113" width="1" height="28" fill="#ff0000"/>
<rect x="986" y="131" width="3" height="6" fill="#ff0000"/>
<rect x="991" y="122" width="1" height="20" fill="#00ff7f"/>
<rect x="990" y="130" width="3" height="5" fill="#00ff7f"/>
<rect x="995" y="105" width="1" height="32" fill="#ff0000"/>
<rect x="994" y="114" width="3" height="21" fill="#ff0000"/>
<rect x="999" y="105" width="1" height="18" fill="#00ff7f"/>
<rect x="998" y="114" width="3" height="3" fill="#00ff7f"/>
<rect x="1003" y="89" width="1" height="34" fill="#ff0000"/>
<rect x="1002" y="94" width="3" height="23" fill="#ff0000"/>
<rect x="1007" y="90" width="1" height="31" fill="#ff0000"/>
<rect x="1006" y="98" width="3" height="5" fill="#ff0000"/>
<rect x="1011" y="84" width="1" height="23" fill="#ff0000"/>
<rect x="1010" y="94" width="3" height="5" fill="#ff0000"/>
<rect x="1015" y="82" width="1" height="17" fill="#00ff7f"/>
<rect x="1014" y="94" width="3" height="3" fill="#00ff7f"/>
<rect x="1019" y="92" width="1" height="24" fill="#00ff7f"/>
<rect x="1018" y="95" width="3" height="18" fill="#00ff7f"/>
<rect x="1023" y="108" width="1" height="24" fill="#00ff7f"/>
<rect x="1022" y="112" width="3" height="19" fill="#00ff7f"/>
<rect x="1027" y="100" width="1" height="16" fill="#ff0000"/>
<rect x="1026" y="106" width="3" height="9" fill="#ff0000"/>
<rect x="1031" y="74" width="1" height="47" fill="#ff0000"/>
<rect x="1030" y="81" width="3" height="26" fill="#ff0000"/>
<rect x="1035" y="73" width="1" height="42" fill="#00ff7f"/>
<rect x="1034" y="80" width="3" height="6" fill="#00ff7f"/>
<rect x="1039" y="83" width="1" height="57" fill="#00ff7f"/>
<rect x="1038" y="84" width="3" height="51" fill="#00ff7f"/>
<rect x="1043" y="130" width="1" height="35" fill="#00ff7f"/>
<rect x="1042" y="134" width="3" height="29" fill="#00ff7f"/>
<rect x="1047" y="144" width="1" height="43" fill="#00ff7f"/>
<rect x="1046" y="162" width="3" height="6" fill="#00ff7f"/>
<rect x="1051" y="149" width="1" height="28" fill="#ff0000"/>
<rect x="1050" y="152" width="3" height="16" fill="#ff0000"/>
<rect x="1055" y="126" width="1" height="28" fill="#ff0000"/>
<rect x="1054" y="135" width="3" height="19" fill="#ff0000"/>
<rect x="1059" y="131" width="1" height="40" fill="#00ff7f"/>
<rect x="1058" y="134" width="3" height="25" fill="#00ff7f"/>
<rect x="1063" y="155" width="1" height="13" fill="#00ff7f"/>
<rect x="1062" y="156" width="3" height="8" fill="#00ff7f"/>
<rect x="1067" y="163" width="1" height="12" fill="#00ff7f"/>
<rect x="1066" y="164" width="3" height="4" fill="#00ff7f"/>
<rect x="1071" y="154" width="1" height="19" fill="#ff0000"/>
<rect x="1070" y="162" width="3" height="5" fill="#ff0000"/>
<rect x="1075" y="151" width="1" height="26" fill="#00ff7f"/>
<rect x="1074" y="162" width="3" height="11" fill="#00ff7f"/>
<rect x="1079" y="162" width="1" height="22" fill="#ff0000"/>
<rect x="1078" y="163" width="3" height="11" fill="#ff0000"/>
<rect x="1083" y="162" width="1" height="24" fill="#00ff7f"/>
<rect x="1082" y="163" width="3" height="22" fill="#00ff7f"/>
<rect x="1087" y="170" width="1" height="19" fill="#ff0000"/>
<rect x="1086" y="172" width="3" height="17" fill="#ff0000"/>
<rect x="1091" y="170" width="1" height="15" fill="#ff0000"/>
<rect x="1090" y="171" width="3" height="2" fill="#ff0000"/>
<rect x="1095" y="167" width="1" height="27" fill="#00ff7f"/>
<rect x="1094" y="171" width="3" height="20" fill="#00ff7f"/>
<rect x="1099" y="182" width="1" height="24" fill="#ff0000"/>
<rect x="1098" y="189" width="3" height="2" fill="#ff0000"/>
<rect x="1103" y="185" width="1" height="15" fill="#00ff7f"/>
<rect x="1102" y="189" width="3" height="7" fill="#00ff7f"/>
<rect x="1107" y="194" width="1" height="20" fill="#00ff7f"/>
<rect x="1106" y="199" width="3" height="11" fill="#00ff7f"/>
<rect x="1111" y="200" width="1" height="48" fill="#00ff7f"/>
<rect x="1110" y="209" width="3" height="22" fill="#00ff7f"/>
<rect x="1115" y="215" width="1" height="32" fill="#ff0000"/>
<rect x="1114" y="220" width="3" height="11" fill="#ff0000"/>
<rect x="1119" y="215" width="1" height="64" fill="#00ff7f"/>
<rect x="1118" y="220" width="3" height="40" fill="#00ff7f"/>
<rect x="1123" y="229" width="1" height="38" fill="#ff0000"/>
<rect x="1122" y="242" width="3" height="18" fill="#ff0000"/>
<rect x="1127" y="220" width="1" height="25" fill="#ff0000"/>
<rect x="1126" y="227" width="3" height="19" fill="#ff0000"/>
<rect x="1131" y="210" width="1" height="31" fill="#ff0000"/>
<rect x="1130" y="213" width="3" height="17" fill="#ff0000"/>
<rect x="1135" y="198" width="1" height="24" fill="#ff0000"/>
<rect x="1134" y="207" width="3" height="8" fill="#ff0000"/>
<rect x="1139" y="203" width="1" height="18" fill="#00ff7f"/>
<rect x="1138" y="206" width="3" height="14" fill="#00ff7f"/>
<rect x="1143" y="216" width="1" height="15" fill="#00ff7f"/>
<rect x="1142" y="218" width="3" height="12" fill="#00ff7f"/>
<rect x="1147" y="202" width="1" height="23" fill="#ff0000"/>
<rect x="1146" y="211" width="3" height="14" fill="#ff0000"/>
<rect x="1151" y="200" width="1" height="16" fill="#ff0000"/>
<rect x="1150" y="204" width="3" height="9" fill="#ff0000"/>
<rect x="1155" y="186" width="1" height="19" fill="#ff0000"/>
<rect x="1154" y="188" width="3" height="16" fill="#ff0000"/>
<rect x="1159" y="182" width="1" height="30" fill="#00ff7f"/>
<rect x="1158" y="188" width="3" height="17" fill="#00ff7f"/>
<rect x="1163" y="187" width="1" height="19" fill="#ff0000"/>
<rect x="1162" y="192" width="3" height="13" fill="#ff0000"/>
<rect x="1167" y="196" width="1" height="12" fill="#00ff7f"/>
<rect x="1166" y="197" width="3" height="11" fill="#00ff7f"/>
<rect x="1171" y="202" width="1" height="16" fill="#00ff7f"/>
<rect x="1170" y="205" width="3" height="4" fill="#00ff7f"/>
</g>
<g clip-path="url(#cm)" shape-rendering="crispEdges">
<polyline points="3.5,346.4 7.5,344.2 11.5,342.0 15.5,340.1 19.5,337.1 23.5,332.9 27.5,328.9 31.5,324.8 35.5,320.9 39.5,317.1 43.5,313.5 47.5,310.2 51.5,306.2 55.5,302.3 59.5,298.3 63.5,297.0 67.5,297.4 71.5,297.3 75.5,297.6 79.5,297.8 83.5,296.1 87.5,293.3 91.5,291.4 95.5,290.3 99.5,288.8 103.5,288.9 107.5,290.1 111.5,290.4 115.5,290.4 119.5,291.0 123.5,291.8 127.5,292.0 131.5,292.3 135.5,293.3 139.5,295.0 143.5,297.1 147.5,295.8 151.5,296.7 155.5,299.5 159.5,301.9 163.5,303.7 167.5,306.0 171.5,307.4 175.5,310.8 179.5,314.2 183.5,316.9 187.5,318.1 191.5,319.2 195.5,321.3 199.5,323.2 203.5,324.8 207.5,325.4 211.5,327.3 215.5,329.6 219.5,332.3 223.5,335.2 227.5,337.5 231.5,341.3 235.5,341.5 239.5,340.2 243.5,339.6 247.5,340.3 251.5,342.1 255.5,345.0 259.5,348.8 263.5,352.4 267.5,358.0 271.5,364.5 275.5,370.2 279.5,376.1 283.5,381.6 287.5,385.6 291.5,391.0 295.5,395.1 299.5,399.7 303.5,404.0 307.5,409.5 311.5,415.2 315.5,420.6 319.5,428.0 323.5,435.9 327.5,441.5 331.5,445.3 335.5,449.2 339.5,452.6 343.5,453.6 347.5,453.8 351.5,452.0 355.5,451.4 359.5,450.6 363.5,450.0 367.5,450.3 371.5,451.6 375.5,454.4 379.5,458.9 383.5,461.9 387.5,466.3 391.5,469.5 395.5,472.8 399.5,476.0 403.5,476.5 407.5,476.1 411.5,478.4 415.5,481.9 419.5,483.9 423.5,485.8 427.5,488.4 431.5,490.8 435.5,495.0 439.5,498.1 443.5,501.0 447.5,503.7 451.5,505.9 455.5,508.6 459.5,511.2 463.5,511.4 467.5,511.4 471.5,510.8 475.5,509.0 479.5,506.5 483.5,503.8 487.5,502.9 491.5,502.7 495.5,501.7 499.5,501.4 503.5,501.3 507.5,502.4 511.5,502.9 515.5,503.4 519.5,503.0 523.5,501.9 527.5,502.6 531.5,503.0 535.5,503.3 539.5,505.0 543.5,504.0 547.5,503.7 551.5,503.7 555.5,502.7 559.5,501.6 563.5,501.6 567.5,501.5 571.5,500.4 575.5,500.0 579.5,499.0 583.5,497.8 587.5,494.6 591.5,490.7 595.5,486.8 599.5,481.3 603.5,475.3 607.5,466.6 611.5,457.7 615.5,448.5 619.5,438.7 623.5,426.6 627.5,416.3 631.5,406.6 635.5,397.1 639.5,388.5 643.5,381.0 647.5,373.2 651.5,365.0 655.5,356.3 659.5,347.0 663.5,338.7 667.5,330.5 671.5,324.3 675.5,318.3 679.5,312.7 683.5,307.9 687.5,303.6 691.5,303.1 695.5,302.0 699.5,300.8 703.5,300.7 707.5,301.2 711.5,302.9 715.5,304.5 719.5,307.9 723.5,310.6 727.5,312.2 731.5,313.2 735.5,314.8 739.5,317.3 743.5,320.4 747.5,323.7 751.5,325.2 755.5,327.1 759.5,329.5 763.5,331.1 767.5,333.6 771.5,335.9 775.5,338.5 779.5,340.7 783.5,343.1 787.5,345.8 791.5,348.2 795.5,349.0 799.5,349.8 803.5,348.8 807.5,348.0 811.5,347.6 815.5,348.2 819.5,348.8 823.5,348.4 827.5,347.4 831.5,346.0 835.5,344.8 839.5,340.7 843.5,336.0 847.5,325.4 851.5,318.0 855.5,309.3 859.5,299.8 863.5,289.9 867.5,280.1 871.5,273.6 875.5,266.1 879.5,258.5 883.5,250.8 887.5,242.2 891.5,233.7 895.5,225.5 899.5,215.8 903.5,203.8 907.5,190.9 911.5,178.6 915.5,165.9 919.5,155.4 923.5,146.7 927.5,137.0 931.5,135.0 935.5,130.7 939.5,128.3 943.5,127.4 947.5,126.4 951.5,125.7 955.5,122.4 959.5,121.9 963.5,122.0 967.5,121.1 971.5,120.6 975.5,120.0 979.5,118.4 983.5,117.2 987.5,118.5 991.5,121.4 995.5,123.2 999.5,125.3 1003.5,125.1 1007.5,126.1 1011.5,128.2 1015.5,129.6 1019.5,130.4 1023.5,131.8 1027.5,130.4 1031.5,128.5 1035.5,126.5 1039.5,125.9 1043.5,125.3 1047.5,124.0 1051.5,123.0 1055.5,122.1 1059.5,122.4 1063.5,123.7 1067.5,125.8 1071.5,127.3 1075.5,129.1 1079.5,131.4 1083.5,134.6 1087.5,138.4 1091.5,141.8 1095.5,146.4 1099.5,150.8 1103.5,154.7 1107.5,158.5 1111.5,164.4 1115.5,171.1 1119.5,179.3 1123.5,184.5 1127.5,187.5 1131.5,189.7 1135.5,192.3 1139.5,196.3 1143.5,199.7 1147.5,202.0 1151.5,203.7 1155.5,205.0 1159.5,206.5 1163.5,207.8 1167.5,208.9 1171.5,210.6" fill="none" stroke="#ffff00" stroke-width="1"/>
<polyline points="3.5,337.1 7.5,332.6 11.5,328.8 15.5,326.3 19.5,323.0 23.5,318.8 27.5,315.3 31.5,311.7 35.5,308.5 39.5,305.3 43.5,302.5 47.5,300.7 51.5,297.4 55.5,292.2 59.5,285.8 63.5,285.8 67.5,287.7 71.5,287.3 75.5,288.1 79.5,289.8 83.5,290.2 87.5,290.0 91.5,288.3 95.5,288.6 99.5,289.3 103.5,290.9 107.5,294.7 111.5,297.4 115.5,299.8 119.5,299.4 123.5,296.8 127.5,294.6 131.5,292.8 135.5,290.7 139.5,290.5 143.5,291.4 147.5,292.5 151.5,297.3 155.5,303.3 159.5,307.5 163.5,310.2 167.5,313.6 171.5,315.6 175.5,318.0 179.5,322.2 183.5,326.6 187.5,329.6 191.5,333.5 195.5,336.8 199.5,339.0 203.5,342.9 207.5,339.8 211.5,336.3 215.5,334.5 219.5,333.6 223.5,334.2 227.5,336.6 231.5,338.3 235.5,338.3 239.5,338.2 243.5,339.8 247.5,341.9 251.5,344.9 255.5,348.3 259.5,354.0 263.5,362.8 267.5,372.6 271.5,381.9 275.5,390.3 279.5,398.1 283.5,405.1 287.5,409.4 291.5,414.0 295.5,418.7 299.5,424.7 303.5,429.1 307.5,435.3 311.5,441.9 315.5,446.0 319.5,451.6 323.5,455.1 327.5,455.2 331.5,454.5 335.5,454.6 339.5,454.7 343.5,455.9 347.5,457.1 351.5,458.1 355.5,459.4 359.5,460.2 363.5,458.8 367.5,457.8 371.5,455.9 375.5,453.6 379.5,453.2 383.5,455.3 387.5,460.7 391.5,465.8 395.5,472.2 399.5,479.7 403.5,485.6 407.5,491.3 411.5,495.8 415.5,501.4 419.5,505.5 423.5,508.0 427.5,511.0 431.5,511.8 435.5,512.2 439.5,513.7 443.5,512.2 447.5,510.1 451.5,507.4 455.5,504.8 459.5,505.6 463.5,506.1 467.5,504.7 471.5,504.1 475.5,503.5 479.5,503.2 483.5,502.9 487.5,503.7 491.5,502.8 495.5,501.3 499.5,502.0 503.5,501.8 507.5,502.7 511.5,502.4 515.5,500.1 519.5,499.5 523.5,499.5 527.5,499.9 531.5,501.1 535.5,502.6 539.5,506.5 543.5,507.2 547.5,507.7 551.5,507.6 555.5,506.1 559.5,504.0 563.5,502.1 567.5,500.7 571.5,499.3 575.5,498.3 579.5,496.9 583.5,494.8 587.5,489.3 591.5,483.7 595.5,475.2 599.5,466.1 603.5,456.8 607.5,443.9 611.5,432.3 615.5,421.5 619.5,408.2 623.5,394.3 627.5,381.0 631.5,367.7 635.5,354.9 639.5,342.1 643.5,333.5 647.5,325.9 651.5,318.0 655.5,311.9 659.5,305.9 663.5,304.9 667.5,304.1 671.5,302.9 675.5,303.2 679.5,304.2 683.5,303.5 687.5,302.3 691.5,302.8 695.5,302.7 699.5,301.2 703.5,299.4 707.5,298.5 711.5,300.9 715.5,303.9 719.5,308.7 723.5,312.2 727.5,315.4 731.5,318.2 735.5,321.2 739.5,326.0 743.5,331.1 747.5,335.8 751.5,338.8 755.5,342.3 759.5,346.5 763.5,349.1 767.5,349.6 771.5,349.5 775.5,348.7 779.5,347.8 783.5,347.5 787.5,348.4 791.5,348.6 795.5,348.3 799.5,348.0 803.5,346.4 807.5,346.5 811.5,346.3 815.5,346.2 819.5,347.8 823.5,348.2 827.5,348.3 831.5,347.1 835.5,344.9 839.5,338.7 843.5,331.7 847.5,314.8 851.5,303.1 855.5,288.7 859.5,275.1 863.5,260.7 867.5,246.2 871.5,236.5 875.5,224.5 879.5,213.4 883.5,203.2 887.5,190.8 891.5,179.8 895.5,173.5 899.5,165.9 903.5,165.5 907.5,157.7 911.5,152.2 915.5,146.3 919.5,143.2 923.5,138.7 927.5,126.7 931.5,118.2 935.5,111.4 939.5,105.0 943.5,102.9 947.5,99.7 951.5,96.5 955.5,96.4 959.5,101.6 963.5,110.1 967.5,117.0 971.5,122.8 975.5,126.6 979.5,131.0 983.5,136.2 987.5,140.8 991.5,143.6 995.5,144.5 999.5,143.2 1003.5,141.2 1007.5,139.2 1011.5,135.4 1015.5,129.8 1019.5,124.0 1023.5,121.0 1027.5,117.5 1031.5,112.5 1035.5,108.7 1039.5,109.5 1043.5,111.8 1047.5,114.1 1051.5,116.8 1055.5,118.1 1059.5,122.7 1063.5,127.3 1067.5,132.6 1071.5,137.3 1075.5,141.6 1079.5,144.0 1083.5,149.5 1087.5,156.0 1091.5,162.2 1095.5,166.1 1099.5,168.0 1103.5,170.0 1107.5,174.2 1111.5,180.9 1115.5,185.4 1119.5,192.3 1123.5,197.6 1127.5,202.2 1131.5,205.0 1135.5,208.2 1139.5,210.7 1143.5,214.7 1147.5,217.6 1151.5,218.6 1155.5,218.6 1159.5,219.2 1163.5,217.9 1167.5,216.3 1171.5,215.4" fill="none" stroke="#ff0000" stroke-width="1"/>
<polyline points="3.5,323.3 7.5,319.4 11.5,316.8 15.5,317.2 19.5,316.5 23.5,313.9 27.5,307.9 31.5,300.1 35.5,297.5 39.5,293.8 43.5,287.9 47.5,284.8 51.5,281.0 55.5,276.4 59.5,271.5 63.5,274.1 67.5,281.7 71.5,286.8 75.5,291.3 79.5,298.6 83.5,304.0 87.5,308.5 91.5,302.6 95.5,295.5 99.5,291.8 103.5,290.6 107.5,290.8 111.5,290.7 115.5,291.1 119.5,296.3 123.5,298.1 127.5,297.4 131.5,295.0 135.5,290.5 139.5,290.3 143.5,291.6 147.5,288.6 151.5,296.5 155.5,309.3 159.5,320.0 163.5,329.8 167.5,337.0 171.5,339.5 175.5,347.4 179.5,347.9 183.5,344.0 187.5,339.3 191.5,337.2 195.5,336.5 199.5,338.4 203.5,338.4 207.5,331.7 211.5,328.7 215.5,329.7 219.5,330.0 223.5,332.0 227.5,334.7 231.5,338.2 235.5,344.9 239.5,347.8 243.5,349.8 247.5,353.8 251.5,357.8 255.5,361.8 259.5,369.7 263.5,380.7 267.5,397.4 271.5,414.0 275.5,426.8 279.5,438.4 283.5,448.4 287.5,449.0 291.5,447.2 295.5,439.9 299.5,435.3 303.5,431.4 307.5,432.3 311.5,435.3 315.5,443.1 319.5,456.1 323.5,470.3 327.5,475.1 331.5,477.6 335.5,476.8 339.5,474.2 343.5,468.7 347.5,458.2 351.5,445.8 355.5,443.6 359.5,442.8 363.5,440.7 367.5,441.5 371.5,443.1 375.5,449.0 379.5,460.6 383.5,466.9 387.5,478.6 391.5,491.0 395.5,502.9 399.5,516.2 403.5,522.3 407.5,522.0 411.5,524.7 415.5,524.3 419.5,519.9 423.5,513.1 427.5,505.8 431.5,501.2 435.5,502.3 439.5,502.6 443.5,500.1 447.5,500.2 451.5,501.7 455.5,503.8 459.5,509.9 463.5,509.9 467.5,506.8 471.5,508.0 475.5,506.7 479.5,504.7 483.5,502.0 487.5,497.5 491.5,495.7 495.5,495.8 499.5,495.9 503.5,496.9 507.5,500.7 511.5,502.9 515.5,502.7 519.5,503.3 523.5,503.2 527.5,503.8 531.5,505.4 535.5,504.6 539.5,510.1 543.5,511.6 547.5,512.2 551.5,512.1 555.5,508.5 559.5,502.6 563.5,499.6 567.5,491.3 571.5,486.9 575.5,484.4 579.5,481.6 583.5,481.2 587.5,475.9 591.5,467.9 595.5,459.0 599.5,445.2 603.5,429.2 607.5,406.2 611.5,383.5 615.5,367.1 619.5,348.5 623.5,329.5 627.5,316.8 631.5,306.1 635.5,303.5 639.5,300.7 643.5,300.0 647.5,303.3 651.5,306.5 655.5,307.0 659.5,305.7 663.5,306.3 667.5,307.4 671.5,305.8 675.5,303.2 679.5,302.0 683.5,300.0 687.5,298.9 691.5,299.4 695.5,297.9 699.5,296.6 703.5,295.7 707.5,295.0 711.5,301.7 715.5,308.8 719.5,318.1 723.5,326.5 727.5,334.3 731.5,340.7 735.5,347.4 739.5,350.3 743.5,353.4 747.5,353.6 751.5,351.1 755.5,350.3 759.5,352.2 763.5,350.8 767.5,348.8 771.5,345.6 775.5,343.7 779.5,344.6 783.5,344.7 787.5,344.6 791.5,346.5 795.5,347.7 799.5,350.5 803.5,349.1 807.5,348.3 811.5,347.9 815.5,347.9 819.5,349.2 823.5,348.8 827.5,346.2 831.5,345.1 835.5,341.5 839.5,329.5 843.5,315.6 847.5,280.5 851.5,257.4 855.5,231.3 859.5,205.1 863.5,179.9 867.5,162.8 871.5,157.5 875.5,168.6 879.5,169.5 883.5,175.1 887.5,176.5 891.5,179.8 895.5,184.2 899.5,174.3 903.5,162.4 907.5,145.9 911.5,129.4 915.5,116.2 919.5,106.7 923.5,93.2 927.5,79.2 931.5,73.9 935.5,76.9 939.5,80.5 943.5,89.5 947.5,92.8 951.5,99.8 955.5,113.6 959.5,129.2 963.5,143.3 967.5,153.4 971.5,156.2 975.5,160.4 979.5,162.1 983.5,158.7 987.5,152.3 991.5,144.0 995.5,135.6 999.5,130.1 1003.5,122.0 1007.5,116.3 1011.5,112.2 1015.5,107.2 1019.5,104.0 1023.5,106.4 1027.5,104.9 1031.5,103.0 1035.5,101.1 1039.5,106.9 1043.5,116.4 1047.5,124.1 1051.5,127.2 1055.5,131.3 1059.5,142.3 1063.5,153.5 1067.5,158.2 1071.5,158.2 1075.5,159.1 1079.5,160.7 1083.5,167.7 1087.5,169.8 1091.5,170.8 1095.5,174.0 1099.5,177.7 1103.5,181.0 1107.5,187.6 1111.5,194.2 1115.5,201.1 1119.5,213.7 1123.5,221.1 1127.5,226.6 1131.5,229.0 1135.5,228.7 1139.5,227.1 1143.5,228.4 1147.5,221.5 1151.5,216.1 1155.5,210.5 1159.5,209.3 1163.5,207.1 1167.5,205.4 1171.5,202.5" fill="none" stroke="#0000cd" stroke-width="1"/>
</g>
<rect x="3" y="41" width="1417" height="3" fill="#ff0000"/>
<rect x="3" y="135" width="1417" height="3" fill="#ff0000"/>
<rect x="2" y="133" width="7" height="7" fill="#ff0000"/><rect x="5" y="136" width="1" height="1" fill="#fff"/>
<rect x="1412" y="133" width="7" height="7" fill="#ff0000"/><rect x="1415" y="136" width="1" height="1" fill="#fff"/>
<rect x="3" y="230" width="1417" height="3" fill="#00ff00"/>
<rect x="2" y="228" width="7" height="7" fill="#00ff00"/><rect x="5" y="231" width="1" height="1" fill="#fff"/>
<rect x="1412" y="228" width="7" height="7" fill="#00ff00"/><rect x="1415" y="231" width="1" height="1" fill="#fff"/>
<rect x="3" y="325" width="1417" height="3" fill="#0000ff"/>
<rect x="2" y="323" width="7" height="7" fill="#0000ff"/><rect x="5" y="326" width="1" height="1" fill="#fff"/>
<rect x="1412" y="323" width="7" height="7" fill="#0000ff"/><rect x="1415" y="326" width="1" height="1" fill="#fff"/>
<rect x="3" y="401" width="1417" height="3" fill="#0000ff"/>
<rect x="2" y="20" width="1417" height="1" fill="#000"/>
<rect x="2" y="560" width="1417" height="1" fill="#000"/>
<rect x="2" y="20" width="1" height="541" fill="#000"/>
<rect x="1418" y="20" width="1" height="541" fill="#000"/>
<rect x="1420" y="36" width="41" height="11" fill="#ff0000"/>
<text x="1424" y="45.5" font-size="9.5" fill="#fff" textLength="32.5" lengthAdjust="spacingAndGlyphs">7.20007</text>
<rect x="1420" y="130" width="41" height="11" fill="#ff0000"/>
<text x="1424" y="139.5" font-size="9.5" fill="#fff" textLength="32.5" lengthAdjust="spacingAndGlyphs">7.10051</text>
<rect x="1420" y="225" width="41" height="11" fill="#00ff00"/>
<text x="1424" y="234.5" font-size="9.5" fill="#fff" textLength="32.5" lengthAdjust="spacingAndGlyphs">7.00089</text>
<rect x="1420" y="320" width="41" height="11" fill="#0000ff"/>
<text x="1424" y="329.5" font-size="9.5" fill="#fff" textLength="32.5" lengthAdjust="spacingAndGlyphs">6.90100</text>
<rect x="1420" y="396" width="41" height="11" fill="#0000ff"/>
<text x="1424" y="405.5" font-size="9.5" fill="#fff" textLength="32.5" lengthAdjust="spacingAndGlyphs">6.82103</text>
<rect x="1420" y="203" width="41" height="11" fill="#000"/>
<text x="1424" y="212.5" font-size="9.5" fill="#fff" textLength="32.5" lengthAdjust="spacingAndGlyphs">7.02495</text>
<polygon points="1129,21 1138,21 1133.5,25.5" fill="#c4c4c4" shape-rendering="auto"/>
<polygon points="6,31 13,31 9.5,27" fill="#000"/>
<text x="18.4" y="32" font-size="9.5" fill="#000" textLength="67.8" lengthAdjust="spacingAndGlyphs" stroke="#000" stroke-width="0.25">USDCNH-,Daily</text>
<text x="92.8" y="32" font-size="9.5" fill="#000" textLength="141.2" lengthAdjust="spacingAndGlyphs" stroke="#000" stroke-width="0.25">7.02864 7.03151 7.01651 7.02495</text>
<rect x="4" y="39" width="223" height="67" fill="#fff"/>
<rect x="6" y="63" width="109" height="41" fill="#0000a8"/>
<rect x="7" y="64" width="107" height="39" fill="url(#gb)"/>
<rect x="117" y="63" width="108" height="41" fill="#0000a8"/>
<rect x="118" y="64" width="106" height="39" fill="url(#gb)"/>
<rect x="6" y="40" width="52" height="24" fill="#0000a8"/>
<rect x="7" y="41" width="50" height="23" fill="url(#gt)"/>
<rect x="173" y="40" width="52" height="24" fill="#0000a8"/>
<rect x="174" y="41" width="50" height="23" fill="url(#gt)"/>
<rect x="10" y="63" width="44" height="1" fill="#1a1aa0"/><rect x="10" y="64" width="44" height="1" fill="#8c8cff"/>
<rect x="177" y="63" width="44" height="1" fill="#1a1aa0"/><rect x="177" y="64" width="44" height="1" fill="#8c8cff"/>
<text x="18.5" y="56" font-size="12" fill="#fff" textLength="25.5" lengthAdjust="spacingAndGlyphs">SELL</text>
<text x="186.5" y="56" font-size="12" fill="#fff" textLength="23.5" lengthAdjust="spacingAndGlyphs">BUY</text>
<rect x="59" y="40" width="113" height="23" fill="#fff"/>
<rect x="60" y="40" width="111" height="22" fill="#a8a8a8"/>
<rect x="61" y="41" width="109" height="20" fill="#fff"/>
<rect x="61" y="41" width="20" height="20" fill="url(#gs)"/><rect x="81" y="41" width="1" height="20" fill="#b8b8b8"/>
<rect x="150" y="41" width="20" height="20" fill="url(#gs)"/><rect x="149" y="41" width="1" height="20" fill="#b8b8b8"/>
<polygon points="67.5,49 73.5,49 70.5,52" fill="#5060b0"/>
<polygon points="156.5,52 162.5,52 159.5,49" fill="#5060b0"/>
<text x="145.7" y="56" font-size="12" fill="#000" text-anchor="end" textLength="22.5" lengthAdjust="spacingAndGlyphs">1.00</text>
<text x="26" y="94.6" font-size="12" fill="#fff" textLength="24" lengthAdjust="spacingAndGlyphs" font-weight="bold">7.02</text>
<text x="52.5" y="94.6" font-size="33" fill="#fff" textLength="36" lengthAdjust="spacingAndGlyphs">49</text>
<text x="94" y="79" font-size="12" fill="#fff" textLength="6" lengthAdjust="spacingAndGlyphs" font-weight="bold">5</text>
<text x="136.5" y="94.6" font-size="12" fill="#fff" textLength="24" lengthAdjust="spacingAndGlyphs" font-weight="bold">7.02</text>
<text x="163.8" y="94.6" font-size="33" fill="#fff" textLength="35" lengthAdjust="spacingAndGlyphs">72</text>
<text x="204" y="79" font-size="12" fill="#fff" textLength="6" lengthAdjust="spacingAndGlyphs" font-weight="bold">9</text>
<g clip-path="url(#cd)" shape-rendering="crispEdges">
<rect x="3" y="610" width="1" height="15" fill="#c0c0c0"/>
<rect x="7" y="608" width="1" height="17" fill="#c0c0c0"/>
<rect x="11" y="608" width="1" height="17" fill="#c0c0c0"/>
<rect x="15" y="609" width="1" height="16" fill="#c0c0c0"/>
<rect x="19" y="608" width="1" height="17" fill="#c0c0c0"/>
<rect x="23" y="606" width="1" height="19" fill="#c0c0c0"/>
<rect x="27" y="605" width="1" height="20" fill="#c0c0c0"/>
<rect x="31" y="605" width="1" height="20" fill="#c0c0c0"/>
<rect x="35" y="605" width="1" height="20" fill="#c0c0c0"/>
<rect x="39" y="604" width="1" height="21" fill="#c0c0c0"/>
<rect x="43" y="604" width="1" height="21" fill="#c0c0c0"/>
<rect x="47" y="604" width="1" height="21" fill="#c0c0c0"/>
<rect x="51" y="602" width="1" height="23" fill="#c0c0c0"/>
<rect x="55" y="601" width="1" height="24" fill="#c0c0c0"/>
<rect x="59" y="600" width="1" height="25" fill="#c0c0c0"/>
<rect x="63" y="604" width="1" height="21" fill="#c0c0c0"/>
<rect x="67" y="610" width="1" height="15" fill="#c0c0c0"/>
<rect x="71" y="613" width="1" height="12" fill="#c0c0c0"/>
<rect x="75" y="615" width="1" height="10" fill="#c0c0c0"/>
<rect x="79" y="617" width="1" height="8" fill="#c0c0c0"/>
<rect x="83" y="617" width="1" height="8" fill="#c0c0c0"/>
<rect x="87" y="616" width="1" height="9" fill="#c0c0c0"/>
<rect x="91" y="614" width="1" height="11" fill="#c0c0c0"/>
<rect x="95" y="615" width="1" height="10" fill="#c0c0c0"/>
<rect x="99" y="615" width="1" height="10" fill="#c0c0c0"/>
<rect x="103" y="617" width="1" height="8" fill="#c0c0c0"/>
<rect x="107" y="619" width="1" height="6" fill="#c0c0c0"/>
<rect x="111" y="619" width="1" height="6" fill="#c0c0c0"/>
<rect x="115" y="619" width="1" height="6" fill="#c0c0c0"/>
<rect x="119" y="620" width="1" height="5" fill="#c0c0c0"/>
<rect x="123" y="621" width="1" height="4" fill="#c0c0c0"/>
<rect x="127" y="620" width="1" height="5" fill="#c0c0c0"/>
<rect x="131" y="620" width="1" height="5" fill="#c0c0c0"/>
<rect x="135" y="619" width="1" height="6" fill="#c0c0c0"/>
<rect x="139" y="620" width="1" height="5" fill="#c0c0c0"/>
<rect x="143" y="620" width="1" height="5" fill="#c0c0c0"/>
<rect x="147" y="620" width="1" height="5" fill="#c0c0c0"/>
<rect x="151" y="625" width="1" height="1" fill="#c0c0c0"/>
<rect x="155" y="625" width="1" height="7" fill="#c0c0c0"/>
<rect x="159" y="625" width="1" height="10" fill="#c0c0c0"/>
<rect x="163" y="625" width="1" height="12" fill="#c0c0c0"/>
<rect x="167" y="625" width="1" height="13" fill="#c0c0c0"/>
<rect x="171" y="625" width="1" height="11" fill="#c0c0c0"/>
<rect x="175" y="625" width="1" height="11" fill="#c0c0c0"/>
<rect x="179" y="625" width="1" height="13" fill="#c0c0c0"/>
<rect x="183" y="625" width="1" height="13" fill="#c0c0c0"/>
<rect x="187" y="625" width="1" height="11" fill="#c0c0c0"/>
<rect x="191" y="625" width="1" height="11" fill="#c0c0c0"/>
<rect x="195" y="625" width="1" height="10" fill="#c0c0c0"/>
<rect x="199" y="625" width="1" height="9" fill="#c0c0c0"/>
<rect x="203" y="625" width="1" height="9" fill="#c0c0c0"/>
<rect x="207" y="625" width="1" height="6" fill="#c0c0c0"/>
<rect x="211" y="625" width="1" height="5" fill="#c0c0c0"/>
<rect x="215" y="625" width="1" height="5" fill="#c0c0c0"/>
<rect x="219" y="625" width="1" height="5" fill="#c0c0c0"/>
<rect x="223" y="625" width="1" height="7" fill="#c0c0c0"/>
<rect x="227" y="625" width="1" height="7" fill="#c0c0c0"/>
<rect x="231" y="625" width="1" height="9" fill="#c0c0c0"/>
<rect x="235" y="625" width="1" height="10" fill="#c0c0c0"/>
<rect x="239" y="625" width="1" height="9" fill="#c0c0c0"/>
<rect x="243" y="625" width="1" height="9" fill="#c0c0c0"/>
<rect x="247" y="625" width="1" height="10" fill="#c0c0c0"/>
<rect x="251" y="625" width="1" height="12" fill="#c0c0c0"/>
<rect x="255" y="625" width="1" height="13" fill="#c0c0c0"/>
<rect x="259" y="625" width="1" height="17" fill="#c0c0c0"/>
<rect x="263" y="625" width="1" height="21" fill="#c0c0c0"/>
<rect x="267" y="625" width="1" height="27" fill="#c0c0c0"/>
<rect x="271" y="625" width="1" height="31" fill="#c0c0c0"/>
<rect x="275" y="625" width="1" height="33" fill="#c0c0c0"/>
<rect x="279" y="625" width="1" height="35" fill="#c0c0c0"/>
<rect x="283" y="625" width="1" height="35" fill="#c0c0c0"/>
<rect x="287" y="625" width="1" height="32" fill="#c0c0c0"/>
<rect x="291" y="625" width="1" height="30" fill="#c0c0c0"/>
<rect x="295" y="625" width="1" height="27" fill="#c0c0c0"/>
<rect x="299" y="625" width="1" height="26" fill="#c0c0c0"/>
<rect x="303" y="625" width="1" height="24" fill="#c0c0c0"/>
<rect x="307" y="625" width="1" height="26" fill="#c0c0c0"/>
<rect x="311" y="625" width="1" height="27" fill="#c0c0c0"/>
<rect x="315" y="625" width="1" height="29" fill="#c0c0c0"/>
<rect x="319" y="625" width="1" height="33" fill="#c0c0c0"/>
<rect x="323" y="625" width="1" height="35" fill="#c0c0c0"/>
<rect x="327" y="625" width="1" height="33" fill="#c0c0c0"/>
<rect x="331" y="625" width="1" height="29" fill="#c0c0c0"/>
<rect x="335" y="625" width="1" height="27" fill="#c0c0c0"/>
<rect x="339" y="625" width="1" height="24" fill="#c0c0c0"/>
<rect x="343" y="625" width="1" height="20" fill="#c0c0c0"/>
<rect x="347" y="625" width="1" height="18" fill="#c0c0c0"/>
<rect x="351" y="625" width="1" height="14" fill="#c0c0c0"/>
<rect x="355" y="625" width="1" height="13" fill="#c0c0c0"/>
<rect x="359" y="625" width="1" height="11" fill="#c0c0c0"/>
<rect x="363" y="625" width="1" height="10" fill="#c0c0c0"/>
<rect x="367" y="625" width="1" height="10" fill="#c0c0c0"/>
<rect x="371" y="625" width="1" height="9" fill="#c0c0c0"/>
<rect x="375" y="625" width="1" height="11" fill="#c0c0c0"/>
<rect x="379" y="625" width="1" height="15" fill="#c0c0c0"/>
<rect x="383" y="625" width="1" height="17" fill="#c0c0c0"/>
<rect x="387" y="625" width="1" height="20" fill="#c0c0c0"/>
<rect x="391" y="625" width="1" height="23" fill="#c0c0c0"/>
<rect x="395" y="625" width="1" height="26" fill="#c0c0c0"/>
<rect x="399" y="625" width="1" height="28" fill="#c0c0c0"/>
<rect x="403" y="625" width="1" height="28" fill="#c0c0c0"/>
<rect x="407" y="625" width="1" height="26" fill="#c0c0c0"/>
<rect x="411" y="625" width="1" height="25" fill="#c0c0c0"/>
<rect x="415" y="625" width="1" height="24" fill="#c0c0c0"/>
<rect x="419" y="625" width="1" height="22" fill="#c0c0c0"/>
<rect x="423" y="625" width="1" height="19" fill="#c0c0c0"/>
<rect x="427" y="625" width="1" height="16" fill="#c0c0c0"/>
<rect x="431" y="625" width="1" height="14" fill="#c0c0c0"/>
<rect x="435" y="625" width="1" height="14" fill="#c0c0c0"/>
<rect x="439" y="625" width="1" height="14" fill="#c0c0c0"/>
<rect x="443" y="625" width="1" height="13" fill="#c0c0c0"/>
<rect x="447" y="625" width="1" height="12" fill="#c0c0c0"/>
<rect x="451" y="625" width="1" height="11" fill="#c0c0c0"/>
<rect x="455" y="625" width="1" height="10" fill="#c0c0c0"/>
<rect x="459" y="625" width="1" height="12" fill="#c0c0c0"/>
<rect x="463" y="625" width="1" height="11" fill="#c0c0c0"/>
<rect x="467" y="625" width="1" height="9" fill="#c0c0c0"/>
<rect x="471" y="625" width="1" height="8" fill="#c0c0c0"/>
<rect x="475" y="625" width="1" height="7" fill="#c0c0c0"/>
<rect x="479" y="625" width="1" height="5" fill="#c0c0c0"/>
<rect x="483" y="625" width="1" height="3" fill="#c0c0c0"/>
<rect x="487" y="625" width="1" height="3" fill="#c0c0c0"/>
<rect x="491" y="625" width="1" height="3" fill="#c0c0c0"/>
<rect x="495" y="625" width="1" height="2" fill="#c0c0c0"/>
<rect x="499" y="625" width="1" height="3" fill="#c0c0c0"/>
<rect x="503" y="625" width="1" height="3" fill="#c0c0c0"/>
<rect x="507" y="625" width="1" height="3" fill="#c0c0c0"/>
<rect x="511" y="625" width="1" height="3" fill="#c0c0c0"/>
<rect x="515" y="625" width="1" height="3" fill="#c0c0c0"/>
<rect x="519" y="625" width="1" height="3" fill="#c0c0c0"/>
<rect x="523" y="625" width="1" height="2" fill="#c0c0c0"/>
<rect x="527" y="625" width="1" height="2" fill="#c0c0c0"/>
<rect x="531" y="625" width="1" height="3" fill="#c0c0c0"/>
<rect x="535" y="625" width="1" height="3" fill="#c0c0c0"/>
<rect x="539" y="625" width="1" height="6" fill="#c0c0c0"/>
<rect x="543" y="625" width="1" height="5" fill="#c0c0c0"/>
<rect x="547" y="625" width="1" height="5" fill="#c0c0c0"/>
<rect x="551" y="625" width="1" height="3" fill="#c0c0c0"/>
<rect x="555" y="625" width="1" height="1" fill="#c0c0c0"/>
<rect x="559" y="623" width="1" height="2" fill="#c0c0c0"/>
<rect x="563" y="622" width="1" height="3" fill="#c0c0c0"/>
<rect x="567" y="621" width="1" height="4" fill="#c0c0c0"/>
<rect x="571" y="620" width="1" height="5" fill="#c0c0c0"/>
<rect x="575" y="620" width="1" height="5" fill="#c0c0c0"/>
<rect x="579" y="619" width="1" height="6" fill="#c0c0c0"/>
<rect x="583" y="619" width="1" height="6" fill="#c0c0c0"/>
<rect x="587" y="615" width="1" height="10" fill="#c0c0c0"/>
<rect x="591" y="611" width="1" height="14" fill="#c0c0c0"/>
<rect x="595" y="608" width="1" height="17" fill="#c0c0c0"/>
<rect x="599" y="603" width="1" height="22" fill="#c0c0c0"/>
<rect x="603" y="598" width="1" height="27" fill="#c0c0c0"/>
<rect x="607" y="589" width="1" height="36" fill="#c0c0c0"/>
<rect x="611" y="584" width="1" height="41" fill="#c0c0c0"/>
<rect x="615" y="580" width="1" height="45" fill="#c0c0c0"/>
<rect x="619" y="575" width="1" height="50" fill="#c0c0c0"/>
<rect x="623" y="571" width="1" height="54" fill="#c0c0c0"/>
<rect x="627" y="569" width="1" height="56" fill="#c0c0c0"/>
<rect x="631" y="569" width="1" height="56" fill="#c0c0c0"/>
<rect x="635" y="569" width="1" height="56" fill="#c0c0c0"/>
<rect x="639" y="570" width="1" height="55" fill="#c0c0c0"/>
<rect x="643" y="573" width="1" height="52" fill="#c0c0c0"/>
<rect x="647" y="576" width="1" height="49" fill="#c0c0c0"/>
<rect x="651" y="578" width="1" height="47" fill="#c0c0c0"/>
<rect x="655" y="579" width="1" height="46" fill="#c0c0c0"/>
<rect x="659" y="580" width="1" height="45" fill="#c0c0c0"/>
<rect x="663" y="582" width="1" height="43" fill="#c0c0c0"/>
<rect x="667" y="585" width="1" height="40" fill="#c0c0c0"/>
<rect x="671" y="587" width="1" height="38" fill="#c0c0c0"/>
<rect x="675" y="589" width="1" height="36" fill="#c0c0c0"/>
<rect x="679" y="591" width="1" height="34" fill="#c0c0c0"/>
<rect x="683" y="591" width="1" height="34" fill="#c0c0c0"/>
<rect x="687" y="592" width="1" height="33" fill="#c0c0c0"/>
<rect x="691" y="594" width="1" height="31" fill="#c0c0c0"/>
<rect x="695" y="597" width="1" height="28" fill="#c0c0c0"/>
<rect x="699" y="598" width="1" height="27" fill="#c0c0c0"/>
<rect x="703" y="600" width="1" height="25" fill="#c0c0c0"/>
<rect x="707" y="601" width="1" height="24" fill="#c0c0c0"/>
<rect x="711" y="606" width="1" height="19" fill="#c0c0c0"/>
<rect x="715" y="609" width="1" height="16" fill="#c0c0c0"/>
<rect x="719" y="615" width="1" height="10" fill="#c0c0c0"/>
<rect x="723" y="620" width="1" height="5" fill="#c0c0c0"/>
<rect x="727" y="622" width="1" height="3" fill="#c0c0c0"/>
<rect x="731" y="623" width="1" height="2" fill="#c0c0c0"/>
<rect x="735" y="624" width="1" height="1" fill="#c0c0c0"/>
<rect x="739" y="625" width="1" height="1" fill="#c0c0c0"/>
<rect x="743" y="625" width="1" height="3" fill="#c0c0c0"/>
<rect x="747" y="625" width="1" height="5" fill="#c0c0c0"/>
<rect x="751" y="625" width="1" height="5" fill="#c0c0c0"/>
<rect x="755" y="625" width="1" height="4" fill="#c0c0c0"/>
<rect x="759" y="625" width="1" height="5" fill="#c0c0c0"/>
<rect x="763" y="625" width="1" height="3" fill="#c0c0c0"/>
<rect x="767" y="625" width="1" height="3" fill="#c0c0c0"/>
<rect x="771" y="625" width="1" height="2" fill="#c0c0c0"/>
<rect x="775" y="625" width="1" height="3" fill="#c0c0c0"/>
<rect x="779" y="625" width="1" height="3" fill="#c0c0c0"/>
<rect x="783" y="625" width="1" height="3" fill="#c0c0c0"/>
<rect x="787" y="625" width="1" height="3" fill="#c0c0c0"/>
<rect x="791" y="625" width="1" height="3" fill="#c0c0c0"/>
<rect x="795" y="625" width="1" height="3" fill="#c0c0c0"/>
<rect x="799" y="625" width="1" height="3" fill="#c0c0c0"/>
<rect x="803" y="625" width="1" height="3" fill="#c0c0c0"/>
<rect x="807" y="625" width="1" height="2" fill="#c0c0c0"/>
<rect x="811" y="625" width="1" height="2" fill="#c0c0c0"/>
<rect x="815" y="625" width="1" height="2" fill="#c0c0c0"/>
<rect x="819" y="625" width="1" height="3" fill="#c0c0c0"/>
<rect x="823" y="625" width="1" height="2" fill="#c0c0c0"/>
<rect x="827" y="625" width="1" height="1" fill="#c0c0c0"/>
<rect x="835" y="623" width="1" height="2" fill="#c0c0c0"/>
<rect x="839" y="616" width="1" height="9" fill="#c0c0c0"/>
<rect x="843" y="611" width="1" height="14" fill="#c0c0c0"/>
<rect x="847" y="594" width="1" height="31" fill="#c0c0c0"/>
<rect x="851" y="588" width="1" height="37" fill="#c0c0c0"/>
<rect x="855" y="581" width="1" height="44" fill="#c0c0c0"/>
<rect x="859" y="576" width="1" height="49" fill="#c0c0c0"/>
<rect x="863" y="572" width="1" height="53" fill="#c0c0c0"/>
<rect x="867" y="569" width="1" height="56" fill="#c0c0c0"/>
<rect x="871" y="574" width="1" height="51" fill="#c0c0c0"/>
<rect x="875" y="576" width="1" height="49" fill="#c0c0c0"/>
<rect x="879" y="578" width="1" height="47" fill="#c0c0c0"/>
<rect x="883" y="580" width="1" height="45" fill="#c0c0c0"/>
<rect x="887" y="580" width="1" height="45" fill="#c0c0c0"/>
<rect x="891" y="581" width="1" height="44" fill="#c0c0c0"/>
<rect x="895" y="582" width="1" height="43" fill="#c0c0c0"/>
<rect x="899" y="582" width="1" height="43" fill="#c0c0c0"/>
<rect x="903" y="579" width="1" height="46" fill="#c0c0c0"/>
<rect x="907" y="574" width="1" height="51" fill="#c0c0c0"/>
<rect x="911" y="571" width="1" height="54" fill="#c0c0c0"/>
<rect x="915" y="569" width="1" height="56" fill="#c0c0c0"/>
<rect x="919" y="570" width="1" height="55" fill="#c0c0c0"/>
<rect x="923" y="570" width="1" height="55" fill="#c0c0c0"/>
<rect x="927" y="569" width="1" height="56" fill="#c0c0c0"/>
<rect x="931" y="569" width="1" height="56" fill="#c0c0c0"/>
<rect x="935" y="573" width="1" height="52" fill="#c0c0c0"/>
<rect x="939" y="577" width="1" height="48" fill="#c0c0c0"/>
<rect x="943" y="583" width="1" height="42" fill="#c0c0c0"/>
<rect x="947" y="587" width="1" height="38" fill="#c0c0c0"/>
<rect x="951" y="591" width="1" height="34" fill="#c0c0c0"/>
<rect x="955" y="597" width="1" height="28" fill="#c0c0c0"/>
<rect x="959" y="604" width="1" height="21" fill="#c0c0c0"/>
<rect x="963" y="611" width="1" height="14" fill="#c0c0c0"/>
<rect x="967" y="615" width="1" height="10" fill="#c0c0c0"/>
<rect x="971" y="617" width="1" height="8" fill="#c0c0c0"/>
<rect x="975" y="618" width="1" height="7" fill="#c0c0c0"/>
<rect x="979" y="618" width="1" height="7" fill="#c0c0c0"/>
<rect x="983" y="617" width="1" height="8" fill="#c0c0c0"/>
<rect x="987" y="616" width="1" height="9" fill="#c0c0c0"/>
<rect x="991" y="617" width="1" height="8" fill="#c0c0c0"/>
<rect x="995" y="615" width="1" height="10" fill="#c0c0c0"/>
<rect x="999" y="614" width="1" height="11" fill="#c0c0c0"/>
<rect x="1003" y="612" width="1" height="13" fill="#c0c0c0"/>
<rect x="1007" y="611" width="1" height="14" fill="#c0c0c0"/>
<rect x="1011" y="609" width="1" height="16" fill="#c0c0c0"/>
<rect x="1015" y="609" width="1" height="16" fill="#c0c0c0"/>
<rect x="1019" y="610" width="1" height="15" fill="#c0c0c0"/>
<rect x="1023" y="612" width="1" height="13" fill="#c0c0c0"/>
<rect x="1027" y="612" width="1" height="13" fill="#c0c0c0"/>
<rect x="1031" y="610" width="1" height="15" fill="#c0c0c0"/>
<rect x="1035" y="609" width="1" height="16" fill="#c0c0c0"/>
<rect x="1039" y="613" width="1" height="12" fill="#c0c0c0"/>
<rect x="1043" y="618" width="1" height="7" fill="#c0c0c0"/>
<rect x="1047" y="623" width="1" height="2" fill="#c0c0c0"/>
<rect x="1059" y="625" width="1" height="3" fill="#c0c0c0"/>
<rect x="1063" y="625" width="1" height="5" fill="#c0c0c0"/>
<rect x="1067" y="625" width="1" height="7" fill="#c0c0c0"/>
<rect x="1071" y="625" width="1" height="8" fill="#c0c0c0"/>
<rect x="1075" y="625" width="1" height="9" fill="#c0c0c0"/>
<rect x="1079" y="625" width="1" height="10" fill="#c0c0c0"/>
<rect x="1083" y="625" width="1" height="12" fill="#c0c0c0"/>
<rect x="1087" y="625" width="1" height="12" fill="#c0c0c0"/>
<rect x="1091" y="625" width="1" height="12" fill="#c0c0c0"/>
<rect x="1095" y="625" width="1" height="13" fill="#c0c0c0"/>
<rect x="1099" y="625" width="1" height="14" fill="#c0c0c0"/>
<rect x="1103" y="625" width="1" height="15" fill="#c0c0c0"/>
<rect x="1107" y="625" width="1" height="17" fill="#c0c0c0"/>
<rect x="1111" y="625" width="1" height="20" fill="#c0c0c0"/>
<rect x="1115" y="625" width="1" height="22" fill="#c0c0c0"/>
<rect x="1119" y="625" width="1" height="26" fill="#c0c0c0"/>
<rect x="1123" y="625" width="1" height="27" fill="#c0c0c0"/>
<rect x="1127" y="625" width="1" height="26" fill="#c0c0c0"/>
<rect x="1131" y="625" width="1" height="25" fill="#c0c0c0"/>
<rect x="1135" y="625" width="1" height="22" fill="#c0c0c0"/>
<rect x="1139" y="625" width="1" height="21" fill="#c0c0c0"/>
<rect x="1143" y="625" width="1" height="21" fill="#c0c0c0"/>
<rect x="1147" y="625" width="1" height="19" fill="#c0c0c0"/>
<rect x="1151" y="625" width="1" height="17" fill="#c0c0c0"/>
<rect x="1155" y="625" width="1" height="14" fill="#c0c0c0"/>
<rect x="1159" y="625" width="1" height="12" fill="#c0c0c0"/>
<rect x="1163" y="625" width="1" height="10" fill="#c0c0c0"/>
<rect x="1167" y="625" width="1" height="9" fill="#c0c0c0"/>
<rect x="1171" y="625" width="1" height="9" fill="#c0c0c0"/>
<path fill="#ff0000" d="M4 610h1v1h-1zM5 610h1v1h-1zM6 609h1v1h-1zM10 609h1v1h-1zM11 609h1v1h-1zM12 609h1v1h-1zM16 608h1v1h-1zM17 608h1v1h-1zM18 608h1v1h-1zM22 608h1v1h-1zM23 608h1v1h-1zM24 608h1v1h-1zM28 607h1v1h-1zM29 607h1v1h-1zM30 607h1v1h-1zM34 607h1v1h-1zM35 607h1v1h-1zM36 607h1v1h-1zM40 606h1v1h-1zM41 606h1v1h-1zM42 606h1v1h-1zM46 605h1v1h-1zM47 605h1v1h-1zM48 605h1v1h-1zM52 605h1v1h-1zM53 605h1v1h-1zM54 604h1v1h-1zM58 603h1v1h-1zM59 603h1v1h-1zM60 603h1v1h-1zM64 603h1v1h-1zM65 603h1v1h-1zM66 604h1v1h-1zM70 605h1v1h-1zM71 605h1v1h-1zM72 605h1v1h-1zM76 606h1v1h-1zM77 606h1v1h-1zM78 607h1v1h-1zM82 608h1v1h-1zM83 609h1v1h-1zM84 609h1v1h-1zM88 611h1v1h-1zM89 611h1v1h-1zM90 612h1v1h-1zM94 613h1v1h-1zM95 614h1v1h-1zM96 614h1v1h-1zM100 615h1v1h-1zM101 615h1v1h-1zM102 616h1v1h-1zM106 616h1v1h-1zM107 616h1v1h-1zM108 616h1v1h-1zM112 617h1v1h-1zM113 617h1v1h-1zM114 617h1v1h-1zM118 617h1v1h-1zM119 617h1v1h-1zM120 617h1v1h-1zM124 618h1v1h-1zM125 618h1v1h-1zM126 618h1v1h-1zM130 619h1v1h-1zM131 619h1v1h-1zM132 619h1v1h-1zM136 619h1v1h-1zM137 619h1v1h-1zM138 620h1v1h-1zM142 620h1v1h-1zM143 620h1v1h-1zM144 620h1v1h-1zM148 620h1v1h-1zM149 620h1v1h-1zM150 621h1v1h-1zM154 622h1v1h-1zM155 622h1v1h-1zM156 622h1v1h-1zM160 623h1v1h-1zM161 624h1v1h-1zM162 624h1v1h-1zM166 626h1v1h-1zM167 627h1v1h-1zM168 627h1v1h-1zM172 629h1v1h-1zM173 630h1v1h-1zM174 630h1v1h-1zM178 632h1v1h-1zM179 633h1v1h-1zM180 633h1v1h-1zM184 635h1v1h-1zM185 635h1v1h-1zM186 636h1v1h-1zM190 637h1v1h-1zM191 637h1v1h-1zM192 637h1v1h-1zM196 637h1v1h-1zM197 637h1v1h-1zM198 636h1v1h-1zM202 636h1v1h-1zM203 636h1v1h-1zM204 636h1v1h-1zM208 635h1v1h-1zM209 635h1v1h-1zM210 635h1v1h-1zM214 634h1v1h-1zM215 634h1v1h-1zM216 634h1v1h-1zM220 633h1v1h-1zM221 633h1v1h-1zM222 632h1v1h-1zM226 632h1v1h-1zM227 632h1v1h-1zM228 632h1v1h-1zM232 632h1v1h-1zM233 632h1v1h-1zM234 632h1v1h-1zM238 632h1v1h-1zM239 632h1v1h-1zM240 632h1v1h-1zM244 632h1v1h-1zM245 632h1v1h-1zM246 633h1v1h-1zM250 634h1v1h-1zM251 634h1v1h-1zM252 634h1v1h-1zM256 634h1v1h-1zM257 634h1v1h-1zM258 635h1v1h-1zM262 636h1v1h-1zM263 637h1v1h-1zM264 637h1v1h-1zM268 640h1v1h-1zM269 640h1v1h-1zM270 641h1v1h-1zM274 643h1v1h-1zM275 644h1v1h-1zM276 645h1v1h-1zM280 648h1v1h-1zM281 648h1v1h-1zM282 649h1v1h-1zM286 651h1v1h-1zM287 652h1v1h-1zM288 652h1v1h-1zM292 654h1v1h-1zM293 654h1v1h-1zM294 655h1v1h-1zM298 656h1v1h-1zM299 656h1v1h-1zM300 656h1v1h-1zM304 656h1v1h-1zM305 656h1v1h-1zM306 655h1v1h-1zM310 654h1v1h-1zM311 654h1v1h-1zM312 654h1v1h-1zM316 654h1v1h-1zM317 654h1v1h-1zM318 653h1v1h-1zM322 654h1v1h-1zM323 654h1v1h-1zM324 654h1v1h-1zM328 654h1v1h-1zM329 654h1v1h-1zM330 654h1v1h-1zM334 654h1v1h-1zM335 654h1v1h-1zM336 654h1v1h-1zM340 654h1v1h-1zM341 654h1v1h-1zM342 654h1v1h-1zM346 653h1v1h-1zM347 652h1v1h-1zM348 652h1v1h-1zM352 651h1v1h-1zM353 650h1v1h-1zM354 650h1v1h-1zM358 647h1v1h-1zM359 646h1v1h-1zM360 645h1v1h-1zM364 643h1v1h-1zM365 642h1v1h-1zM366 642h1v1h-1zM370 640h1v1h-1zM371 639h1v1h-1zM372 639h1v1h-1zM376 638h1v1h-1zM377 638h1v1h-1zM378 637h1v1h-1zM382 637h1v1h-1zM383 637h1v1h-1zM384 637h1v1h-1zM388 638h1v1h-1zM389 638h1v1h-1zM390 639h1v1h-1zM394 640h1v1h-1zM395 641h1v1h-1zM396 641h1v1h-1zM400 643h1v1h-1zM401 644h1v1h-1zM402 644h1v1h-1zM406 646h1v1h-1zM407 647h1v1h-1zM408 647h1v1h-1zM412 648h1v1h-1zM413 648h1v1h-1zM414 649h1v1h-1zM418 650h1v1h-1zM419 650h1v1h-1zM420 650h1v1h-1zM424 650h1v1h-1zM425 650h1v1h-1zM426 649h1v1h-1zM430 648h1v1h-1zM431 648h1v1h-1zM432 648h1v1h-1zM436 646h1v1h-1zM437 645h1v1h-1zM438 645h1v1h-1zM442 643h1v1h-1zM443 643h1v1h-1zM444 643h1v1h-1zM448 642h1v1h-1zM449 641h1v1h-1zM450 641h1v1h-1zM454 639h1v1h-1zM455 639h1v1h-1zM456 639h1v1h-1zM460 638h1v1h-1zM461 638h1v1h-1zM462 637h1v1h-1zM466 637h1v1h-1zM467 637h1v1h-1zM468 637h1v1h-1zM472 636h1v1h-1zM473 636h1v1h-1zM474 635h1v1h-1zM478 634h1v1h-1zM479 634h1v1h-1zM480 634h1v1h-1zM484 633h1v1h-1zM485 633h1v1h-1zM486 633h1v1h-1zM490 632h1v1h-1zM491 632h1v1h-1zM492 632h1v1h-1zM496 631h1v1h-1zM497 631h1v1h-1zM498 630h1v1h-1zM502 629h1v1h-1zM503 629h1v1h-1zM504 629h1v1h-1zM508 629h1v1h-1zM509 629h1v1h-1zM510 628h1v1h-1zM514 628h1v1h-1zM515 628h1v1h-1zM516 628h1v1h-1zM520 628h1v1h-1zM521 628h1v1h-1zM522 628h1v1h-1zM526 628h1v1h-1zM527 628h1v1h-1zM528 628h1v1h-1zM532 628h1v1h-1zM533 628h1v1h-1zM534 628h1v1h-1zM538 628h1v1h-1zM539 628h1v1h-1zM540 628h1v1h-1zM544 628h1v1h-1zM545 628h1v1h-1zM546 628h1v1h-1zM550 629h1v1h-1zM551 629h1v1h-1zM552 629h1v1h-1zM556 628h1v1h-1zM557 628h1v1h-1zM558 628h1v1h-1zM562 627h1v1h-1zM563 627h1v1h-1zM564 627h1v1h-1zM568 627h1v1h-1zM569 627h1v1h-1zM570 626h1v1h-1zM574 625h1v1h-1zM575 625h1v1h-1zM576 625h1v1h-1zM580 623h1v1h-1zM581 623h1v1h-1zM582 622h1v1h-1zM586 621h1v1h-1zM587 621h1v1h-1zM588 621h1v1h-1zM592 619h1v1h-1zM593 618h1v1h-1zM594 618h1v1h-1zM598 616h1v1h-1zM599 615h1v1h-1zM600 615h1v1h-1zM604 612h1v1h-1zM605 611h1v1h-1zM606 610h1v1h-1zM610 606h1v1h-1zM611 605h1v1h-1zM612 604h1v1h-1zM616 600h1v1h-1zM617 599h1v1h-1zM617 598h1v1h-1zM621 594h1v1h-1zM621 593h1v1h-1zM622 592h1v1h-1zM625 588h1v1h-1zM626 587h1v1h-1zM627 586h1v1h-1zM631 582h1v1h-1zM632 581h1v1h-1zM633 580h1v1h-1zM637 577h1v1h-1zM638 576h1v1h-1zM639 575h1v1h-1zM643 573h1v1h-1zM644 573h1v1h-1zM645 573h1v1h-1zM649 572h1v1h-1zM650 572h1v1h-1zM651 572h1v1h-1zM655 573h1v1h-1zM656 573h1v1h-1zM657 573h1v1h-1zM661 574h1v1h-1zM662 575h1v1h-1zM663 575h1v1h-1zM667 577h1v1h-1zM668 577h1v1h-1zM669 578h1v1h-1zM673 580h1v1h-1zM674 580h1v1h-1zM675 581h1v1h-1zM679 583h1v1h-1zM680 583h1v1h-1zM681 584h1v1h-1zM685 585h1v1h-1zM686 586h1v1h-1zM687 586h1v1h-1zM691 588h1v1h-1zM692 588h1v1h-1zM693 589h1v1h-1zM697 591h1v1h-1zM698 591h1v1h-1zM699 592h1v1h-1zM703 593h1v1h-1zM704 593h1v1h-1zM705 594h1v1h-1zM709 596h1v1h-1zM710 596h1v1h-1zM711 597h1v1h-1zM715 599h1v1h-1zM716 599h1v1h-1zM717 600h1v1h-1zM721 602h1v1h-1zM722 603h1v1h-1zM723 604h1v1h-1zM727 607h1v1h-1zM728 608h1v1h-1zM729 608h1v1h-1zM733 611h1v1h-1zM734 612h1v1h-1zM735 613h1v1h-1zM739 616h1v1h-1zM740 617h1v1h-1zM741 617h1v1h-1zM745 620h1v1h-1zM746 621h1v1h-1zM747 622h1v1h-1zM751 624h1v1h-1zM752 624h1v1h-1zM753 625h1v1h-1zM757 626h1v1h-1zM758 627h1v1h-1zM759 627h1v1h-1zM763 628h1v1h-1zM764 628h1v1h-1zM765 628h1v1h-1zM769 628h1v1h-1zM770 628h1v1h-1zM771 628h1v1h-1zM775 629h1v1h-1zM776 629h1v1h-1zM777 629h1v1h-1zM781 629h1v1h-1zM782 628h1v1h-1zM783 628h1v1h-1zM787 628h1v1h-1zM788 628h1v1h-1zM789 628h1v1h-1zM793 628h1v1h-1zM794 628h1v1h-1zM795 628h1v1h-1zM799 628h1v1h-1zM800 628h1v1h-1zM801 628h1v1h-1zM805 628h1v1h-1zM806 628h1v1h-1zM807 628h1v1h-1zM811 628h1v1h-1zM812 628h1v1h-1zM813 628h1v1h-1zM817 628h1v1h-1zM818 628h1v1h-1zM819 628h1v1h-1zM823 628h1v1h-1zM824 628h1v1h-1zM825 628h1v1h-1zM829 627h1v1h-1zM830 627h1v1h-1zM831 627h1v1h-1zM835 627h1v1h-1zM836 627h1v1h-1zM837 626h1v1h-1zM841 624h1v1h-1zM842 624h1v1h-1zM843 623h1v1h-1zM847 620h1v1h-1zM848 619h1v1h-1zM849 618h1v1h-1zM852 614h1v1h-1zM853 613h1v1h-1zM853 612h1v1h-1zM857 608h1v1h-1zM857 607h1v1h-1zM858 606h1v1h-1zM861 602h1v1h-1zM862 601h1v1h-1zM862 600h1v1h-1zM865 596h1v1h-1zM865 595h1v1h-1zM866 594h1v1h-1zM869 590h1v1h-1zM869 589h1v1h-1zM870 588h1v1h-1zM873 584h1v1h-1zM874 583h1v1h-1zM875 582h1v1h-1zM879 579h1v1h-1zM880 579h1v1h-1zM881 578h1v1h-1zM885 577h1v1h-1zM886 576h1v1h-1zM887 576h1v1h-1zM891 576h1v1h-1zM892 576h1v1h-1zM893 576h1v1h-1zM897 577h1v1h-1zM898 578h1v1h-1zM899 578h1v1h-1zM903 579h1v1h-1zM904 579h1v1h-1zM905 579h1v1h-1zM909 579h1v1h-1zM910 579h1v1h-1zM911 579h1v1h-1zM915 578h1v1h-1zM916 578h1v1h-1zM917 578h1v1h-1zM921 577h1v1h-1zM922 576h1v1h-1zM923 576h1v1h-1zM927 574h1v1h-1zM928 574h1v1h-1zM929 574h1v1h-1zM933 573h1v1h-1zM934 572h1v1h-1zM935 572h1v1h-1zM939 571h1v1h-1zM940 571h1v1h-1zM941 571h1v1h-1zM945 573h1v1h-1zM946 573h1v1h-1zM947 574h1v1h-1zM951 577h1v1h-1zM952 578h1v1h-1zM953 578h1v1h-1zM957 581h1v1h-1zM958 582h1v1h-1zM959 583h1v1h-1zM962 587h1v1h-1zM963 588h1v1h-1zM964 589h1v1h-1zM967 593h1v1h-1zM968 594h1v1h-1zM969 595h1v1h-1zM972 599h1v1h-1zM973 600h1v1h-1zM973 601h1v1h-1zM977 605h1v1h-1zM978 606h1v1h-1zM979 607h1v1h-1zM983 610h1v1h-1zM984 611h1v1h-1zM985 611h1v1h-1zM989 614h1v1h-1zM990 614h1v1h-1zM991 615h1v1h-1zM995 616h1v1h-1zM996 616h1v1h-1zM997 616h1v1h-1zM1001 616h1v1h-1zM1002 616h1v1h-1zM1003 616h1v1h-1zM1007 615h1v1h-1zM1008 615h1v1h-1zM1009 615h1v1h-1zM1013 614h1v1h-1zM1014 613h1v1h-1zM1015 613h1v1h-1zM1019 613h1v1h-1zM1020 613h1v1h-1zM1021 613h1v1h-1zM1025 612h1v1h-1zM1026 612h1v1h-1zM1027 612h1v1h-1zM1031 611h1v1h-1zM1032 611h1v1h-1zM1033 611h1v1h-1zM1037 610h1v1h-1zM1038 611h1v1h-1zM1039 611h1v1h-1zM1043 611h1v1h-1zM1044 611h1v1h-1zM1045 612h1v1h-1zM1049 614h1v1h-1zM1050 614h1v1h-1zM1051 615h1v1h-1zM1055 616h1v1h-1zM1056 616h1v1h-1zM1057 617h1v1h-1zM1061 619h1v1h-1zM1062 619h1v1h-1zM1063 620h1v1h-1zM1067 622h1v1h-1zM1068 623h1v1h-1zM1069 623h1v1h-1zM1073 626h1v1h-1zM1074 626h1v1h-1zM1075 627h1v1h-1zM1079 629h1v1h-1zM1080 629h1v1h-1zM1081 630h1v1h-1zM1085 631h1v1h-1zM1086 632h1v1h-1zM1087 632h1v1h-1zM1091 634h1v1h-1zM1092 634h1v1h-1zM1093 634h1v1h-1zM1097 635h1v1h-1zM1098 636h1v1h-1zM1099 636h1v1h-1zM1103 637h1v1h-1zM1104 637h1v1h-1zM1105 637h1v1h-1zM1109 638h1v1h-1zM1110 639h1v1h-1zM1111 639h1v1h-1zM1115 640h1v1h-1zM1116 640h1v1h-1zM1117 641h1v1h-1zM1121 643h1v1h-1zM1122 643h1v1h-1zM1123 644h1v1h-1zM1127 645h1v1h-1zM1128 645h1v1h-1zM1129 645h1v1h-1zM1133 646h1v1h-1zM1134 647h1v1h-1zM1135 647h1v1h-1zM1139 648h1v1h-1zM1140 648h1v1h-1zM1141 648h1v1h-1zM1145 648h1v1h-1zM1146 648h1v1h-1zM1147 648h1v1h-1zM1151 648h1v1h-1zM1152 648h1v1h-1zM1153 647h1v1h-1zM1157 646h1v1h-1zM1158 645h1v1h-1zM1159 645h1v1h-1zM1163 643h1v1h-1zM1164 643h1v1h-1zM1165 642h1v1h-1zM1169 641h1v1h-1zM1170 640h1v1h-1zM1171 640h1v1h-1z"/>
</g>
<rect x="2" y="562" width="1417" height="1" fill="#000"/>
<rect x="2" y="666" width="1417" height="1" fill="#000"/>
<rect x="2" y="562" width="1" height="105" fill="#000"/>
<rect x="1418" y="562" width="1" height="105" fill="#000"/>
<text x="7.6" y="575" font-size="9.5" fill="#000" textLength="153" lengthAdjust="spacingAndGlyphs" stroke="#000" stroke-width="0.25">MACD(12,26,9) -0.009089 -0.015169</text>
<text x="1422" y="573" font-size="9.5" fill="#000" textLength="37.6" lengthAdjust="spacingAndGlyphs" stroke="#000" stroke-width="0.25">0.060687</text>
<text x="1422" y="629" font-size="9.5" fill="#000" textLength="20.5" lengthAdjust="spacingAndGlyphs" stroke="#000" stroke-width="0.25">0.00</text>
<text x="1422" y="663" font-size="9.5" fill="#000" textLength="42" lengthAdjust="spacingAndGlyphs" stroke="#000" stroke-width="0.25">-0.040432</text>
<rect x="1419" y="625" width="3" height="1" fill="#000"/>
<rect x="1419" y="564" width="3" height="1" fill="#000"/>
<rect x="1419" y="665" width="3" height="1" fill="#000"/>
<g clip-path="url(#cr)">
<line x1="4" y1="708.5" x2="1418" y2="708.5" stroke="#c0c0c0" stroke-dasharray="3,3" shape-rendering="crispEdges"/>
<line x1="4" y1="759.5" x2="1418" y2="759.5" stroke="#c0c0c0" stroke-dasharray="3,3" shape-rendering="crispEdges"/>
<polyline points="3.5,732.2 7.5,722.6 11.5,723.6 15.5,727.4 19.5,722.4 23.5,718.4 27.5,721.0 31.5,720.0 35.5,720.6 39.5,719.1 43.5,717.8 47.5,718.2 51.5,712.0 55.5,712.7 59.5,711.0 63.5,734.8 67.5,743.4 71.5,736.2 75.5,735.0 79.5,734.2 83.5,730.2 87.5,726.3 91.5,721.1 95.5,729.1 99.5,729.7 103.5,734.5 107.5,737.2 111.5,732.0 115.5,729.1 119.5,734.5 123.5,733.7 127.5,728.1 131.5,728.8 135.5,726.2 139.5,732.9 143.5,733.9 147.5,727.7 151.5,751.0 155.5,754.9 159.5,749.9 163.5,745.3 167.5,743.9 171.5,733.9 175.5,740.1 179.5,745.4 183.5,741.6 187.5,735.7 191.5,737.4 195.5,739.1 199.5,735.2 203.5,737.8 207.5,729.8 211.5,734.4 215.5,737.2 219.5,737.5 223.5,743.1 227.5,740.5 231.5,744.6 235.5,743.8 239.5,738.5 243.5,739.5 247.5,744.6 251.5,749.9 255.5,747.0 259.5,757.4 263.5,761.3 267.5,765.9 271.5,766.2 275.5,760.6 279.5,762.4 283.5,754.3 287.5,744.3 291.5,745.0 295.5,740.6 299.5,746.6 303.5,743.8 307.5,754.2 311.5,753.2 315.5,754.9 319.5,762.3 323.5,761.2 327.5,744.4 331.5,737.5 335.5,742.4 339.5,737.8 343.5,734.6 347.5,735.8 351.5,731.3 355.5,738.6 359.5,734.5 363.5,737.8 367.5,738.8 371.5,737.1 375.5,746.0 379.5,751.4 383.5,747.6 387.5,752.5 391.5,755.8 395.5,755.8 399.5,756.8 403.5,749.9 407.5,742.4 411.5,745.1 415.5,745.5 419.5,741.6 423.5,735.3 427.5,736.0 431.5,736.7 435.5,743.1 439.5,744.7 443.5,737.0 447.5,740.0 451.5,736.8 455.5,738.9 459.5,748.8 463.5,739.1 467.5,733.2 471.5,737.1 475.5,733.9 479.5,729.7 483.5,729.7 487.5,736.9 491.5,734.9 495.5,733.2 499.5,738.2 503.5,736.8 507.5,739.6 511.5,734.6 515.5,735.7 519.5,735.7 523.5,731.3 527.5,739.7 531.5,741.0 535.5,736.1 539.5,749.0 543.5,737.3 547.5,734.7 551.5,729.6 555.5,727.2 559.5,722.9 563.5,727.5 567.5,726.4 571.5,727.1 575.5,730.3 579.5,723.9 583.5,728.9 587.5,714.0 591.5,711.7 595.5,709.5 599.5,702.9 603.5,701.4 607.5,693.0 611.5,698.2 615.5,698.0 619.5,695.0 623.5,693.7 627.5,698.8 631.5,701.5 635.5,700.2 639.5,705.1 643.5,711.3 647.5,712.8 651.5,710.0 655.5,708.2 659.5,706.7 663.5,709.4 667.5,716.7 671.5,714.9 675.5,713.9 679.5,713.2 683.5,709.2 687.5,709.2 691.5,718.8 695.5,718.8 699.5,716.9 703.5,716.5 707.5,716.5 711.5,737.7 715.5,738.8 719.5,750.5 723.5,747.6 727.5,742.1 731.5,737.5 735.5,738.2 739.5,742.7 743.5,744.1 747.5,748.6 751.5,735.8 755.5,736.6 759.5,740.4 763.5,730.6 767.5,733.4 771.5,731.3 775.5,740.3 779.5,737.8 783.5,735.8 787.5,739.2 791.5,735.6 795.5,736.5 799.5,739.0 803.5,734.8 807.5,734.0 811.5,733.4 815.5,738.9 819.5,740.3 823.5,733.8 827.5,728.0 831.5,730.0 835.5,719.9 839.5,702.4 843.5,701.4 847.5,686.0 851.5,709.9 855.5,706.3 859.5,707.0 863.5,705.6 867.5,705.3 871.5,725.4 875.5,720.7 879.5,721.4 883.5,721.8 887.5,717.4 891.5,717.6 895.5,719.4 899.5,715.3 903.5,708.9 907.5,705.3 911.5,706.0 915.5,705.5 919.5,713.9 923.5,710.6 927.5,706.9 931.5,712.2 935.5,720.2 939.5,722.0 943.5,730.7 947.5,727.8 951.5,728.9 955.5,734.2 959.5,740.7 963.5,744.2 967.5,738.7 971.5,734.3 975.5,733.5 979.5,730.2 983.5,726.7 987.5,729.1 991.5,730.1 995.5,724.8 999.5,725.6 1003.5,720.1 1007.5,721.6 1011.5,720.6 1015.5,721.5 1019.5,727.7 1023.5,734.1 1027.5,726.8 1031.5,720.1 1035.5,721.6 1039.5,737.2 1043.5,744.0 1047.5,744.9 1051.5,740.2 1055.5,735.3 1059.5,741.0 1063.5,742.5 1067.5,743.5 1071.5,741.8 1075.5,744.5 1079.5,741.0 1083.5,746.7 1087.5,742.3 1091.5,741.7 1095.5,747.2 1099.5,746.8 1103.5,748.8 1107.5,752.7 1111.5,757.7 1115.5,752.9 1119.5,761.3 1123.5,753.8 1127.5,747.8 1131.5,742.5 1135.5,740.5 1139.5,743.9 1143.5,746.8 1147.5,739.7 1151.5,737.1 1155.5,731.5 1159.5,737.0 1163.5,732.8 1167.5,737.8 1171.5,738.3" fill="none" stroke="#1e90ff" stroke-width="1" stroke-linejoin="round"/>
</g>
<rect x="2" y="668" width="1417" height="1" fill="#000"/>
<rect x="2" y="798" width="1417" height="1" fill="#000"/>
<rect x="2" y="668" width="1" height="131" fill="#000"/>
<rect x="1418" y="668" width="1" height="131" fill="#000"/>
<text x="7.6" y="681" font-size="9.5" fill="#000" textLength="68" lengthAdjust="spacingAndGlyphs" stroke="#000" stroke-width="0.25">RSI(14) 46.3854</text>
<text x="1422" y="679" font-size="9.5" fill="#000" textLength="14.6" lengthAdjust="spacingAndGlyphs" stroke="#000" stroke-width="0.25">100</text>
<text x="1422" y="712" font-size="9.5" fill="#000" textLength="9.8" lengthAdjust="spacingAndGlyphs" stroke="#000" stroke-width="0.25">70</text>
<text x="1422" y="763" font-size="9.5" fill="#000" textLength="9.8" lengthAdjust="spacingAndGlyphs" stroke="#000" stroke-width="0.25">30</text>
<text x="1422" y="795" font-size="9.5" fill="#000" textLength="5" lengthAdjust="spacingAndGlyphs" stroke="#000" stroke-width="0.25">0</text>
<rect x="1419" y="670" width="3" height="1" fill="#000"/>
<polygon points="3,793 3,798 8,798" fill="#c8c8c8"/>
<rect x="3" y="799" width="1" height="3" fill="#000"/>
<text x="3" y="811" font-size="9.3" fill="#000" stroke="#000" stroke-width="0.3">11 Oct 2018</text>
<rect x="67" y="799" width="1" height="3" fill="#000"/>
<text x="67" y="811" font-size="9.3" fill="#000" stroke="#000" stroke-width="0.3">2 Nov 2018</text>
<rect x="131" y="799" width="1" height="3" fill="#000"/>
<text x="131" y="811" font-size="9.3" fill="#000" stroke="#000" stroke-width="0.3">26 Nov 2018</text>
<rect x="195" y="799" width="1" height="3" fill="#000"/>
<text x="195" y="811" font-size="9.3" fill="#000" stroke="#000" stroke-width="0.3">18 Dec 2018</text>
<rect x="259" y="799" width="1" height="3" fill="#000"/>
<text x="259" y="811" font-size="9.3" fill="#000" stroke="#000" stroke-width="0.3">9 Jan 2019</text>
<rect x="323" y="799" width="1" height="3" fill="#000"/>
<text x="323" y="811" font-size="9.3" fill="#000" stroke="#000" stroke-width="0.3">31 Jan 2019</text>
<rect x="387" y="799" width="1" height="3" fill="#000"/>
<text x="387" y="811" font-size="9.3" fill="#000" stroke="#000" stroke-width="0.3">22 Feb 2019</text>
<rect x="451" y="799" width="1" height="3" fill="#000"/>
<text x="451" y="811" font-size="9.3" fill="#000" stroke="#000" stroke-width="0.3">18 Mar 2019</text>
<rect x="515" y="799" width="1" height="3" fill="#000"/>
<text x="515" y="811" font-size="9.3" fill="#000" stroke="#000" stroke-width="0.3">9 Apr 2019</text>
<rect x="579" y="799" width="1" height="3" fill="#000"/>
<text x="579" y="811" font-size="9.3" fill="#000" stroke="#000" stroke-width="0.3">2 May 2019</text>
<rect x="643" y="799" width="1" height="3" fill="#000"/>
<text x="643" y="811" font-size="9.3" fill="#000" stroke="#000" stroke-width="0.3">24 May 2019</text>
<rect x="707" y="799" width="1" height="3" fill="#000"/>
<text x="707" y="811" font-size="9.3" fill="#000" stroke="#000" stroke-width="0.3">17 Jun 2019</text>
<rect x="771" y="799" width="1" height="3" fill="#000"/>
<text x="771" y="811" font-size="9.3" fill="#000" stroke="#000" stroke-width="0.3">9 Jul 2019</text>
<rect x="835" y="799" width="1" height="3" fill="#000"/>
<text x="835" y="811" font-size="9.3" fill="#000" stroke="#000" stroke-width="0.3">31 Jul 2019</text>
<rect x="899" y="799" width="1" height="3" fill="#000"/>
<text x="899" y="811" font-size="9.3" fill="#000" stroke="#000" stroke-width="0.3">22 Aug 2019</text>
<rect x="963" y="799" width="1" height="3" fill="#000"/>
<text x="963" y="811" font-size="9.3" fill="#000" stroke="#000" stroke-width="0.3">13 Sep 2019</text>
<rect x="1027" y="799" width="1" height="3" fill="#000"/>
<text x="1027" y="811" font-size="9.3" fill="#000" stroke="#000" stroke-width="0.3">7 Oct 2019</text>
<rect x="1091" y="799" width="1" height="3" fill="#000"/>
<text x="1091" y="811" font-size="9.3" fill="#000" stroke="#000" stroke-width="0.3">29 Oct 2019</text>
<rect x="1155" y="799" width="1" height="3" fill="#000"/>
<text x="1155" y="811" font-size="9.3" fill="#000" stroke="#000" stroke-width="0.3">20 Nov 2019</text>
<rect x="0" y="819" width="1462" height="1" fill="#e0e0e0"/>
<rect x="0" y="821" width="1462" height="1" fill="#000"/>
<rect x="0" y="822" width="1462" height="19" fill="#f0f0f0"/>
<rect x="0" y="841" width="1462" height="1" fill="#fafafa"/>
<rect x="0" y="842" width="1462" height="3" fill="#efefef"/>
<rect x="0" y="845" width="1462" height="1" fill="#a8a8a8"/>
<rect x="0" y="846" width="1462" height="1" fill="#f0f0f0"/>
<rect x="436" y="821" width="113" height="20" fill="#000"/>
<rect x="437" y="822" width="111" height="17" fill="#fff"/>
<text x="15.5" y="836" font-size="12" fill="#6d6d6d" textLength="84.5" lengthAdjust="spacingAndGlyphs">EURUSD-,Daily</text>
<text x="122.3" y="836" font-size="12" fill="#6d6d6d" textLength="86.2" lengthAdjust="spacingAndGlyphs">AUDUSD-,Daily</text>
<text x="232" y="836" font-size="12" fill="#6d6d6d" textLength="84" lengthAdjust="spacingAndGlyphs">USDCHF-,Daily</text>
<text x="339.5" y="836" font-size="12" fill="#6d6d6d" textLength="85.5" lengthAdjust="spacingAndGlyphs">USDCAD-,Daily</text>
<text x="559.5" y="836" font-size="12" fill="#6d6d6d" textLength="96.5" lengthAdjust="spacingAndGlyphs">EURCHF-,Weekly</text>
<text x="680" y="836" font-size="12" fill="#6d6d6d" textLength="100" lengthAdjust="spacingAndGlyphs">XAUUSD-,Weekly</text>
<text x="803.8" y="836" font-size="12" fill="#6d6d6d" textLength="71.7" lengthAdjust="spacingAndGlyphs">GBPUSD-,H1</text>
<text x="899.5" y="836" font-size="12" fill="#6d6d6d" textLength="56.5" lengthAdjust="spacingAndGlyphs">UKOil-,H1</text>
<text x="978.8" y="836" font-size="12" fill="#6d6d6d" textLength="82.2" lengthAdjust="spacingAndGlyphs">USDX-,Weekly</text>
<text x="1082.5" y="836" font-size="12" fill="#6d6d6d" textLength="70" lengthAdjust="spacingAndGlyphs">EURCHF-,H1</text>
<text x="1176" y="836" font-size="12" fill="#6d6d6d" textLength="56" lengthAdjust="spacingAndGlyphs">USOil-,H1</text>
<text x="448.8" y="836" font-size="12" fill="#000" textLength="87.2" lengthAdjust="spacingAndGlyphs">USDCNH-,Daily</text>
<rect x="112" y="824" width="1" height="14" fill="#6d6d6d"/>
<rect x="220" y="824" width="1" height="14" fill="#6d6d6d"/>
<rect x="328" y="824" width="1" height="14" fill="#6d6d6d"/>
<rect x="669" y="824" width="1" height="14" fill="#6d6d6d"/>
<rect x="792" y="824" width="1" height="14" fill="#6d6d6d"/>
<rect x="888" y="824" width="1" height="14" fill="#6d6d6d"/>
<rect x="969" y="824" width="1" height="14" fill="#6d6d6d"/>
<rect x="1072" y="824" width="1" height="14" fill="#6d6d6d"/>
<rect x="1165" y="824" width="1" height="14" fill="#6d6d6d"/>
<rect x="1245" y="824" width="1" height="14" fill="#6d6d6d"/>
<polygon points="1436,826 1436,834 1432,830" fill="#a0a0a0"/>
<polygon points="1452,826 1452,834 1456,830" fill="#a0a0a0"/>
</svg>
</body></html>
